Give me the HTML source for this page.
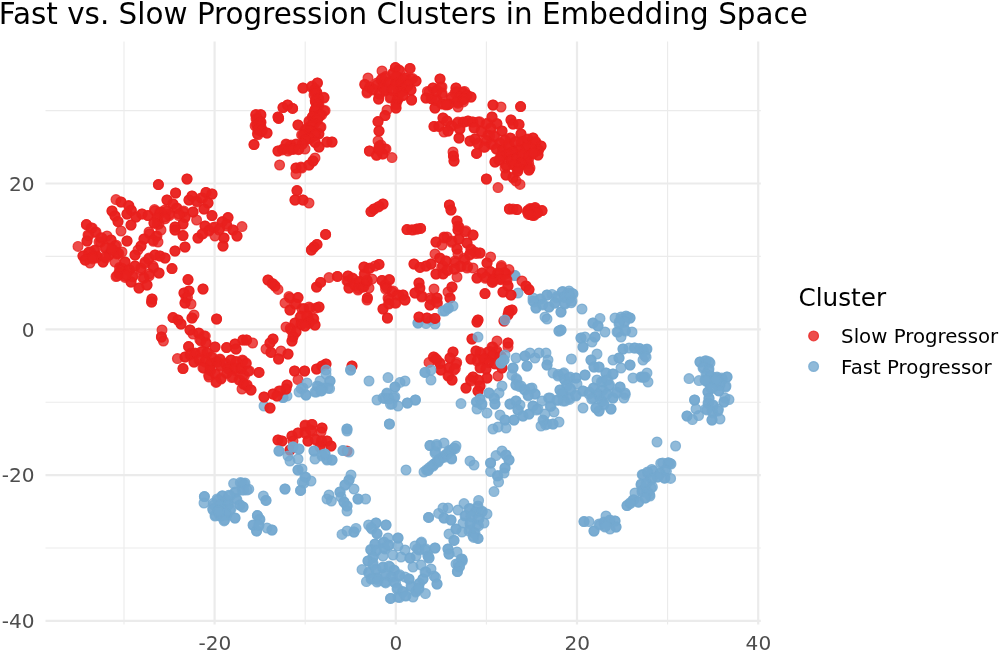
<!DOCTYPE html><html><head><meta charset="utf-8"><title>Fast vs. Slow Progression Clusters in Embedding Space</title>
<style>html,body{margin:0;padding:0;background:#fff}svg{display:block}text{font-family:"DejaVu Sans","Liberation Sans",sans-serif}.ax{font-size:20.1px;fill:#4d4d4d}.r{fill:#e8201e;fill-opacity:0.8;stroke:#e8201e;stroke-opacity:0.8;stroke-width:1.2}.b{fill:#74a9cf;fill-opacity:0.8;stroke:#74a9cf;stroke-opacity:0.8;stroke-width:1.2}</style></head><body>
<svg width="1000" height="652" viewBox="0 0 1000 652">
<rect width="1000" height="652" fill="#fff"/>
<g><line x1="124.00" x2="124.00" y1="41.50" y2="624.50" stroke="#ebebeb" stroke-width="1.1"/><line x1="45.50" x2="760.80" y1="548.00" y2="548.00" stroke="#ebebeb" stroke-width="1.1"/><line x1="305.20" x2="305.20" y1="41.50" y2="624.50" stroke="#ebebeb" stroke-width="1.1"/><line x1="45.50" x2="760.80" y1="402.20" y2="402.20" stroke="#ebebeb" stroke-width="1.1"/><line x1="486.40" x2="486.40" y1="41.50" y2="624.50" stroke="#ebebeb" stroke-width="1.1"/><line x1="45.50" x2="760.80" y1="256.40" y2="256.40" stroke="#ebebeb" stroke-width="1.1"/><line x1="667.60" x2="667.60" y1="41.50" y2="624.50" stroke="#ebebeb" stroke-width="1.1"/><line x1="45.50" x2="760.80" y1="110.60" y2="110.60" stroke="#ebebeb" stroke-width="1.1"/><line x1="214.60" x2="214.60" y1="41.50" y2="624.50" stroke="#ebebeb" stroke-width="2.2"/><line x1="395.80" x2="395.80" y1="41.50" y2="624.50" stroke="#ebebeb" stroke-width="2.2"/><line x1="577.00" x2="577.00" y1="41.50" y2="624.50" stroke="#ebebeb" stroke-width="2.2"/><line x1="758.20" x2="758.20" y1="41.50" y2="624.50" stroke="#ebebeb" stroke-width="2.2"/><line x1="45.50" x2="760.80" y1="620.90" y2="620.90" stroke="#ebebeb" stroke-width="2.2"/><line x1="45.50" x2="760.80" y1="475.10" y2="475.10" stroke="#ebebeb" stroke-width="2.2"/><line x1="45.50" x2="760.80" y1="329.30" y2="329.30" stroke="#ebebeb" stroke-width="2.2"/><line x1="45.50" x2="760.80" y1="183.50" y2="183.50" stroke="#ebebeb" stroke-width="2.2"/></g>
<g><circle class="r" cx="256.0" cy="114.4" r="4.9"/><circle class="r" cx="255.7" cy="115.0" r="4.9"/><circle class="r" cx="261.0" cy="115.0" r="4.9"/><circle class="r" cx="260.6" cy="114.5" r="4.9"/><circle class="r" cx="257.0" cy="119.0" r="4.9"/><circle class="r" cx="256.0" cy="118.8" r="4.9"/><circle class="r" cx="258.2" cy="119.4" r="4.9"/><circle class="r" cx="260.0" cy="122.0" r="4.9"/><circle class="r" cx="261.1" cy="122.3" r="4.9"/><circle class="r" cx="260.6" cy="122.3" r="4.9"/><circle class="r" cx="256.6" cy="125.0" r="4.9"/><circle class="r" cx="255.1" cy="125.8" r="4.9"/><circle class="r" cx="257.2" cy="125.6" r="4.9"/><circle class="r" cx="261.0" cy="127.0" r="4.9"/><circle class="r" cx="259.7" cy="125.6" r="4.9"/><circle class="r" cx="260.0" cy="126.5" r="4.9"/><circle class="r" cx="258.0" cy="130.0" r="4.9"/><circle class="r" cx="258.6" cy="129.9" r="4.9"/><circle class="r" cx="258.6" cy="129.3" r="4.9"/><circle class="r" cx="262.0" cy="130.0" r="4.9"/><circle class="r" cx="262.4" cy="130.5" r="4.9"/><circle class="r" cx="261.4" cy="131.6" r="4.9"/><circle class="r" cx="257.4" cy="133.6" r="4.9"/><circle class="r" cx="258.0" cy="134.8" r="4.9"/><circle class="r" cx="267.0" cy="133.0" r="4.9"/><circle class="r" cx="267.0" cy="133.0" r="4.9"/><circle class="r" cx="254.0" cy="144.6" r="4.9"/><circle class="r" cx="254.0" cy="144.6" r="4.9"/><circle class="r" cx="278.6" cy="118.4" r="4.9"/><circle class="r" cx="278.6" cy="118.4" r="4.9"/><circle class="r" cx="278.0" cy="117.0" r="4.9"/><circle class="r" cx="278.0" cy="117.0" r="4.9"/><circle class="r" cx="283.0" cy="107.6" r="4.9"/><circle class="r" cx="283.0" cy="107.6" r="4.9"/><circle class="r" cx="287.6" cy="105.0" r="4.9"/><circle class="r" cx="287.6" cy="105.0" r="4.9"/><circle class="r" cx="292.6" cy="108.4" r="4.9"/><circle class="r" cx="292.6" cy="108.4" r="4.9"/><circle class="r" cx="303.0" cy="88.0" r="4.9"/><circle class="r" cx="303.0" cy="88.0" r="4.9"/><circle class="r" cx="312.0" cy="86.0" r="4.9"/><circle class="r" cx="311.5" cy="87.3" r="4.9"/><circle class="r" cx="317.4" cy="83.0" r="4.9"/><circle class="r" cx="317.4" cy="83.0" r="4.9"/><circle class="r" cx="315.0" cy="89.0" r="4.9"/><circle class="r" cx="314.5" cy="90.6" r="4.9"/><circle class="r" cx="317.0" cy="93.0" r="4.9"/><circle class="r" cx="316.7" cy="92.2" r="4.9"/><circle class="r" cx="315.9" cy="92.4" r="4.9"/><circle class="r" cx="314.0" cy="95.0" r="4.9"/><circle class="r" cx="315.1" cy="93.9" r="4.9"/><circle class="r" cx="318.0" cy="98.0" r="4.9"/><circle class="r" cx="317.5" cy="99.9" r="4.9"/><circle class="r" cx="318.8" cy="98.8" r="4.9"/><circle class="r" cx="324.0" cy="98.0" r="4.9"/><circle class="r" cx="324.0" cy="97.3" r="4.9"/><circle class="r" cx="316.0" cy="102.0" r="4.9"/><circle class="r" cx="315.4" cy="102.0" r="4.9"/><circle class="r" cx="315.2" cy="100.6" r="4.9"/><circle class="r" cx="319.0" cy="105.0" r="4.9"/><circle class="r" cx="317.4" cy="104.2" r="4.9"/><circle class="r" cx="318.4" cy="106.4" r="4.9"/><circle class="r" cx="317.0" cy="109.0" r="4.9"/><circle class="r" cx="315.9" cy="108.2" r="4.9"/><circle class="r" cx="315.3" cy="109.5" r="4.9"/><circle class="r" cx="324.0" cy="111.0" r="4.9"/><circle class="r" cx="325.1" cy="110.6" r="4.9"/><circle class="r" cx="315.0" cy="112.0" r="4.9"/><circle class="r" cx="314.7" cy="111.5" r="4.9"/><circle class="r" cx="314.6" cy="110.6" r="4.9"/><circle class="r" cx="320.0" cy="115.0" r="4.9"/><circle class="r" cx="321.7" cy="114.9" r="4.9"/><circle class="r" cx="319.8" cy="116.1" r="4.9"/><circle class="r" cx="313.0" cy="117.0" r="4.9"/><circle class="r" cx="312.7" cy="116.5" r="4.9"/><circle class="r" cx="312.3" cy="117.2" r="4.9"/><circle class="r" cx="317.0" cy="120.0" r="4.9"/><circle class="r" cx="317.4" cy="120.4" r="4.9"/><circle class="r" cx="317.1" cy="119.3" r="4.9"/><circle class="r" cx="309.0" cy="121.0" r="4.9"/><circle class="r" cx="309.0" cy="122.1" r="4.9"/><circle class="r" cx="314.0" cy="124.0" r="4.9"/><circle class="r" cx="314.4" cy="123.6" r="4.9"/><circle class="r" cx="312.7" cy="124.4" r="4.9"/><circle class="r" cx="310.0" cy="127.0" r="4.9"/><circle class="r" cx="311.3" cy="125.8" r="4.9"/><circle class="r" cx="310.6" cy="126.3" r="4.9"/><circle class="r" cx="321.0" cy="127.0" r="4.9"/><circle class="r" cx="320.1" cy="127.5" r="4.9"/><circle class="r" cx="305.0" cy="130.0" r="4.9"/><circle class="r" cx="306.4" cy="128.7" r="4.9"/><circle class="r" cx="305.4" cy="130.6" r="4.9"/><circle class="r" cx="311.0" cy="131.0" r="4.9"/><circle class="r" cx="311.1" cy="131.8" r="4.9"/><circle class="r" cx="309.6" cy="131.1" r="4.9"/><circle class="r" cx="298.0" cy="125.0" r="4.9"/><circle class="r" cx="298.0" cy="125.0" r="4.9"/><circle class="r" cx="307.0" cy="134.0" r="4.9"/><circle class="r" cx="308.1" cy="134.0" r="4.9"/><circle class="r" cx="306.1" cy="135.0" r="4.9"/><circle class="r" cx="303.0" cy="135.0" r="4.9"/><circle class="r" cx="304.5" cy="134.6" r="4.9"/><circle class="r" cx="301.6" cy="134.9" r="4.9"/><circle class="r" cx="319.0" cy="134.0" r="4.9"/><circle class="r" cx="318.7" cy="133.5" r="4.9"/><circle class="r" cx="314.0" cy="136.0" r="4.9"/><circle class="r" cx="315.3" cy="135.0" r="4.9"/><circle class="r" cx="315.2" cy="134.8" r="4.9"/><circle class="r" cx="309.0" cy="138.0" r="4.9"/><circle class="r" cx="308.1" cy="138.7" r="4.9"/><circle class="r" cx="310.2" cy="138.9" r="4.9"/><circle class="r" cx="305.0" cy="140.0" r="4.9"/><circle class="r" cx="305.6" cy="140.2" r="4.9"/><circle class="r" cx="315.0" cy="142.0" r="4.9"/><circle class="r" cx="315.2" cy="142.7" r="4.9"/><circle class="r" cx="319.0" cy="147.0" r="4.9"/><circle class="r" cx="319.0" cy="147.0" r="4.9"/><circle class="r" cx="302.0" cy="144.0" r="4.9"/><circle class="r" cx="302.5" cy="144.2" r="4.9"/><circle class="r" cx="296.0" cy="144.0" r="4.9"/><circle class="r" cx="296.4" cy="144.5" r="4.9"/><circle class="r" cx="290.0" cy="146.0" r="4.9"/><circle class="r" cx="289.6" cy="146.4" r="4.9"/><circle class="r" cx="291.0" cy="145.0" r="4.9"/><circle class="r" cx="286.0" cy="144.0" r="4.9"/><circle class="r" cx="286.5" cy="144.7" r="4.9"/><circle class="r" cx="283.0" cy="149.0" r="4.9"/><circle class="r" cx="282.4" cy="149.9" r="4.9"/><circle class="r" cx="278.0" cy="151.0" r="4.9"/><circle class="r" cx="278.0" cy="151.0" r="4.9"/><circle class="r" cx="288.0" cy="151.0" r="4.9"/><circle class="r" cx="289.2" cy="149.4" r="4.9"/><circle class="r" cx="293.0" cy="149.0" r="4.9"/><circle class="r" cx="291.8" cy="149.3" r="4.9"/><circle class="r" cx="293.6" cy="149.3" r="4.9"/><circle class="r" cx="299.0" cy="149.0" r="4.9"/><circle class="r" cx="298.5" cy="149.7" r="4.9"/><circle class="r" cx="305.0" cy="149.0" r="4.9"/><circle class="r" cx="327.0" cy="142.0" r="4.9"/><circle class="r" cx="327.0" cy="142.0" r="4.9"/><circle class="r" cx="332.0" cy="142.0" r="4.9"/><circle class="r" cx="332.0" cy="142.0" r="4.9"/><circle class="r" cx="279.6" cy="165.0" r="4.9"/><circle class="r" cx="296.0" cy="168.0" r="4.9"/><circle class="r" cx="296.0" cy="168.0" r="4.9"/><circle class="r" cx="301.0" cy="167.0" r="4.9"/><circle class="r" cx="301.8" cy="168.0" r="4.9"/><circle class="r" cx="309.0" cy="165.0" r="4.9"/><circle class="r" cx="309.0" cy="165.0" r="4.9"/><circle class="r" cx="313.0" cy="161.0" r="4.9"/><circle class="r" cx="313.0" cy="161.0" r="4.9"/><circle class="r" cx="315.0" cy="158.0" r="4.9"/><circle class="r" cx="368.0" cy="78.0" r="4.9"/><circle class="r" cx="365.0" cy="85.0" r="4.9"/><circle class="r" cx="364.7" cy="84.2" r="4.9"/><circle class="r" cx="370.0" cy="87.0" r="4.9"/><circle class="r" cx="369.5" cy="87.6" r="4.9"/><circle class="r" cx="367.0" cy="93.0" r="4.9"/><circle class="r" cx="367.2" cy="91.7" r="4.9"/><circle class="r" cx="373.0" cy="90.0" r="4.9"/><circle class="r" cx="373.2" cy="89.0" r="4.9"/><circle class="r" cx="377.0" cy="83.0" r="4.9"/><circle class="r" cx="377.3" cy="84.7" r="4.9"/><circle class="r" cx="382.0" cy="71.0" r="4.9"/><circle class="r" cx="381.0" cy="80.0" r="4.9"/><circle class="r" cx="382.0" cy="78.6" r="4.9"/><circle class="r" cx="385.0" cy="78.0" r="4.9"/><circle class="r" cx="385.7" cy="76.5" r="4.9"/><circle class="r" cx="383.0" cy="87.0" r="4.9"/><circle class="r" cx="383.2" cy="88.3" r="4.9"/><circle class="r" cx="382.7" cy="87.4" r="4.9"/><circle class="r" cx="379.0" cy="94.0" r="4.9"/><circle class="r" cx="379.9" cy="94.2" r="4.9"/><circle class="r" cx="378.6" cy="99.0" r="4.9"/><circle class="r" cx="378.6" cy="99.0" r="4.9"/><circle class="r" cx="387.0" cy="90.0" r="4.9"/><circle class="r" cx="386.3" cy="88.2" r="4.9"/><circle class="r" cx="385.2" cy="90.6" r="4.9"/><circle class="r" cx="390.0" cy="82.0" r="4.9"/><circle class="r" cx="391.9" cy="81.9" r="4.9"/><circle class="r" cx="389.5" cy="82.6" r="4.9"/><circle class="r" cx="393.0" cy="73.0" r="4.9"/><circle class="r" cx="393.1" cy="73.8" r="4.9"/><circle class="r" cx="395.4" cy="67.6" r="4.9"/><circle class="r" cx="395.4" cy="67.6" r="4.9"/><circle class="r" cx="400.0" cy="71.0" r="4.9"/><circle class="r" cx="398.7" cy="69.7" r="4.9"/><circle class="r" cx="397.0" cy="78.0" r="4.9"/><circle class="r" cx="397.7" cy="77.0" r="4.9"/><circle class="r" cx="396.0" cy="76.6" r="4.9"/><circle class="r" cx="395.0" cy="85.0" r="4.9"/><circle class="r" cx="396.3" cy="85.8" r="4.9"/><circle class="r" cx="396.4" cy="84.1" r="4.9"/><circle class="r" cx="401.0" cy="82.0" r="4.9"/><circle class="r" cx="401.0" cy="80.8" r="4.9"/><circle class="r" cx="401.7" cy="83.5" r="4.9"/><circle class="r" cx="405.0" cy="78.0" r="4.9"/><circle class="r" cx="404.2" cy="79.5" r="4.9"/><circle class="r" cx="406.1" cy="77.8" r="4.9"/><circle class="r" cx="410.0" cy="68.4" r="4.9"/><circle class="r" cx="410.0" cy="68.4" r="4.9"/><circle class="r" cx="411.0" cy="79.0" r="4.9"/><circle class="r" cx="412.5" cy="78.5" r="4.9"/><circle class="r" cx="416.0" cy="81.0" r="4.9"/><circle class="r" cx="416.0" cy="81.0" r="4.9"/><circle class="r" cx="407.0" cy="86.0" r="4.9"/><circle class="r" cx="407.5" cy="86.5" r="4.9"/><circle class="r" cx="408.4" cy="85.0" r="4.9"/><circle class="r" cx="403.0" cy="89.0" r="4.9"/><circle class="r" cx="404.1" cy="90.4" r="4.9"/><circle class="r" cx="404.5" cy="88.8" r="4.9"/><circle class="r" cx="411.0" cy="90.0" r="4.9"/><circle class="r" cx="411.0" cy="90.0" r="4.9"/><circle class="r" cx="399.0" cy="92.0" r="4.9"/><circle class="r" cx="398.3" cy="91.8" r="4.9"/><circle class="r" cx="400.9" cy="92.2" r="4.9"/><circle class="r" cx="393.0" cy="91.0" r="4.9"/><circle class="r" cx="392.2" cy="90.0" r="4.9"/><circle class="r" cx="390.0" cy="98.0" r="4.9"/><circle class="r" cx="391.1" cy="97.5" r="4.9"/><circle class="r" cx="397.0" cy="100.0" r="4.9"/><circle class="r" cx="398.2" cy="98.7" r="4.9"/><circle class="r" cx="397.2" cy="100.9" r="4.9"/><circle class="r" cx="403.0" cy="95.0" r="4.9"/><circle class="r" cx="402.8" cy="95.8" r="4.9"/><circle class="r" cx="411.6" cy="100.0" r="4.9"/><circle class="r" cx="411.6" cy="100.0" r="4.9"/><circle class="r" cx="396.0" cy="104.0" r="4.9"/><circle class="r" cx="395.9" cy="105.1" r="4.9"/><circle class="r" cx="396.0" cy="108.0" r="4.9"/><circle class="r" cx="396.0" cy="108.0" r="4.9"/><circle class="r" cx="387.0" cy="110.0" r="4.9"/><circle class="r" cx="385.0" cy="115.6" r="4.9"/><circle class="r" cx="385.0" cy="115.6" r="4.9"/><circle class="r" cx="378.0" cy="121.6" r="4.9"/><circle class="r" cx="378.0" cy="121.6" r="4.9"/><circle class="r" cx="379.0" cy="131.0" r="4.9"/><circle class="r" cx="379.0" cy="131.0" r="4.9"/><circle class="r" cx="378.0" cy="141.0" r="4.9"/><circle class="r" cx="381.0" cy="145.0" r="4.9"/><circle class="r" cx="379.4" cy="145.9" r="4.9"/><circle class="r" cx="386.0" cy="149.0" r="4.9"/><circle class="r" cx="384.7" cy="149.0" r="4.9"/><circle class="r" cx="383.0" cy="154.0" r="4.9"/><circle class="r" cx="382.5" cy="153.9" r="4.9"/><circle class="r" cx="377.0" cy="155.0" r="4.9"/><circle class="r" cx="376.3" cy="155.3" r="4.9"/><circle class="r" cx="369.4" cy="151.0" r="4.9"/><circle class="r" cx="369.4" cy="151.0" r="4.9"/><circle class="r" cx="392.0" cy="157.6" r="4.9"/><circle class="r" cx="379.0" cy="149.0" r="4.9"/><circle class="r" cx="379.6" cy="150.1" r="4.9"/><circle class="r" cx="378.8" cy="147.7" r="4.9"/><circle class="r" cx="440.0" cy="79.0" r="4.9"/><circle class="r" cx="440.0" cy="79.0" r="4.9"/><circle class="r" cx="433.0" cy="88.0" r="4.9"/><circle class="r" cx="433.0" cy="88.0" r="4.9"/><circle class="r" cx="429.0" cy="92.0" r="4.9"/><circle class="r" cx="427.4" cy="91.4" r="4.9"/><circle class="r" cx="426.0" cy="98.0" r="4.9"/><circle class="r" cx="426.0" cy="98.0" r="4.9"/><circle class="r" cx="432.0" cy="99.0" r="4.9"/><circle class="r" cx="431.2" cy="98.7" r="4.9"/><circle class="r" cx="437.0" cy="90.0" r="4.9"/><circle class="r" cx="436.7" cy="91.6" r="4.9"/><circle class="r" cx="442.0" cy="87.0" r="4.9"/><circle class="r" cx="440.7" cy="86.9" r="4.9"/><circle class="r" cx="442.0" cy="95.0" r="4.9"/><circle class="r" cx="442.1" cy="93.1" r="4.9"/><circle class="r" cx="437.0" cy="100.0" r="4.9"/><circle class="r" cx="435.7" cy="100.5" r="4.9"/><circle class="r" cx="435.0" cy="108.0" r="4.9"/><circle class="r" cx="435.0" cy="108.0" r="4.9"/><circle class="r" cx="443.0" cy="104.0" r="4.9"/><circle class="r" cx="441.5" cy="103.9" r="4.9"/><circle class="r" cx="434.0" cy="126.4" r="4.9"/><circle class="r" cx="434.0" cy="126.4" r="4.9"/><circle class="r" cx="439.0" cy="126.4" r="4.9"/><circle class="r" cx="439.0" cy="126.4" r="4.9"/><circle class="r" cx="443.0" cy="118.0" r="4.9"/><circle class="r" cx="443.0" cy="118.0" r="4.9"/><circle class="r" cx="444.0" cy="132.0" r="4.9"/><circle class="r" cx="456.0" cy="88.0" r="4.9"/><circle class="r" cx="456.0" cy="88.0" r="4.9"/><circle class="r" cx="455.0" cy="93.0" r="4.9"/><circle class="r" cx="456.4" cy="91.7" r="4.9"/><circle class="r" cx="463.0" cy="92.0" r="4.9"/><circle class="r" cx="462.9" cy="93.3" r="4.9"/><circle class="r" cx="464.6" cy="91.4" r="4.9"/><circle class="r" cx="460.0" cy="97.0" r="4.9"/><circle class="r" cx="460.4" cy="97.5" r="4.9"/><circle class="r" cx="459.4" cy="97.2" r="4.9"/><circle class="r" cx="467.0" cy="95.0" r="4.9"/><circle class="r" cx="467.0" cy="95.6" r="4.9"/><circle class="r" cx="471.0" cy="97.0" r="4.9"/><circle class="r" cx="471.0" cy="97.0" r="4.9"/><circle class="r" cx="451.0" cy="99.0" r="4.9"/><circle class="r" cx="451.4" cy="97.2" r="4.9"/><circle class="r" cx="457.0" cy="102.0" r="4.9"/><circle class="r" cx="457.9" cy="103.3" r="4.9"/><circle class="r" cx="456.6" cy="101.4" r="4.9"/><circle class="r" cx="463.0" cy="100.0" r="4.9"/><circle class="r" cx="464.4" cy="98.7" r="4.9"/><circle class="r" cx="463.4" cy="101.9" r="4.9"/><circle class="r" cx="449.0" cy="104.0" r="4.9"/><circle class="r" cx="448.0" cy="104.7" r="4.9"/><circle class="r" cx="458.0" cy="107.0" r="4.9"/><circle class="r" cx="446.0" cy="105.0" r="4.9"/><circle class="r" cx="446.4" cy="104.4" r="4.9"/><circle class="r" cx="447.0" cy="121.0" r="4.9"/><circle class="r" cx="447.0" cy="121.0" r="4.9"/><circle class="r" cx="452.0" cy="126.0" r="4.9"/><circle class="r" cx="451.0" cy="125.9" r="4.9"/><circle class="r" cx="448.0" cy="131.0" r="4.9"/><circle class="r" cx="448.0" cy="131.0" r="4.9"/><circle class="r" cx="458.0" cy="122.0" r="4.9"/><circle class="r" cx="457.3" cy="123.4" r="4.9"/><circle class="r" cx="463.0" cy="122.0" r="4.9"/><circle class="r" cx="464.3" cy="122.2" r="4.9"/><circle class="r" cx="460.0" cy="129.0" r="4.9"/><circle class="r" cx="459.5" cy="129.2" r="4.9"/><circle class="r" cx="459.0" cy="138.0" r="4.9"/><circle class="r" cx="459.0" cy="138.0" r="4.9"/><circle class="r" cx="468.0" cy="121.0" r="4.9"/><circle class="r" cx="468.0" cy="121.0" r="4.9"/><circle class="r" cx="473.0" cy="122.0" r="4.9"/><circle class="r" cx="472.4" cy="122.0" r="4.9"/><circle class="r" cx="478.0" cy="122.0" r="4.9"/><circle class="r" cx="479.7" cy="121.8" r="4.9"/><circle class="r" cx="474.0" cy="128.0" r="4.9"/><circle class="r" cx="474.6" cy="127.9" r="4.9"/><circle class="r" cx="470.0" cy="141.0" r="4.9"/><circle class="r" cx="470.0" cy="141.0" r="4.9"/><circle class="r" cx="475.0" cy="139.0" r="4.9"/><circle class="r" cx="475.0" cy="139.0" r="4.9"/><circle class="r" cx="478.0" cy="144.0" r="4.9"/><circle class="r" cx="478.2" cy="143.1" r="4.9"/><circle class="r" cx="481.0" cy="131.0" r="4.9"/><circle class="r" cx="481.8" cy="131.8" r="4.9"/><circle class="r" cx="486.0" cy="124.0" r="4.9"/><circle class="r" cx="487.5" cy="123.1" r="4.9"/><circle class="r" cx="492.0" cy="117.0" r="4.9"/><circle class="r" cx="492.0" cy="117.0" r="4.9"/><circle class="r" cx="493.0" cy="105.0" r="4.9"/><circle class="r" cx="493.0" cy="105.0" r="4.9"/><circle class="r" cx="501.0" cy="107.0" r="4.9"/><circle class="r" cx="520.6" cy="106.6" r="4.9"/><circle class="r" cx="520.6" cy="106.6" r="4.9"/><circle class="r" cx="497.0" cy="124.0" r="4.9"/><circle class="r" cx="496.8" cy="123.4" r="4.9"/><circle class="r" cx="502.0" cy="131.0" r="4.9"/><circle class="r" cx="502.0" cy="131.0" r="4.9"/><circle class="r" cx="491.0" cy="129.0" r="4.9"/><circle class="r" cx="490.6" cy="127.9" r="4.9"/><circle class="r" cx="488.0" cy="135.0" r="4.9"/><circle class="r" cx="489.7" cy="135.8" r="4.9"/><circle class="r" cx="495.0" cy="137.0" r="4.9"/><circle class="r" cx="493.9" cy="135.7" r="4.9"/><circle class="r" cx="485.0" cy="140.0" r="4.9"/><circle class="r" cx="486.5" cy="140.9" r="4.9"/><circle class="r" cx="491.0" cy="144.0" r="4.9"/><circle class="r" cx="492.6" cy="144.7" r="4.9"/><circle class="r" cx="485.0" cy="147.0" r="4.9"/><circle class="r" cx="484.0" cy="147.3" r="4.9"/><circle class="r" cx="476.6" cy="153.4" r="4.9"/><circle class="r" cx="476.6" cy="153.4" r="4.9"/><circle class="r" cx="453.0" cy="152.0" r="4.9"/><circle class="r" cx="453.4" cy="156.0" r="4.9"/><circle class="r" cx="453.4" cy="156.0" r="4.9"/><circle class="r" cx="454.0" cy="161.0" r="4.9"/><circle class="r" cx="454.0" cy="161.0" r="4.9"/><circle class="r" cx="511.0" cy="120.0" r="4.9"/><circle class="r" cx="511.0" cy="120.0" r="4.9"/><circle class="r" cx="513.0" cy="124.0" r="4.9"/><circle class="r" cx="513.0" cy="124.0" r="4.9"/><circle class="r" cx="519.0" cy="124.4" r="4.9"/><circle class="r" cx="519.0" cy="124.4" r="4.9"/><circle class="r" cx="521.0" cy="134.0" r="4.9"/><circle class="r" cx="521.0" cy="134.0" r="4.9"/><circle class="r" cx="510.0" cy="138.0" r="4.9"/><circle class="r" cx="510.8" cy="138.2" r="4.9"/><circle class="r" cx="505.0" cy="140.0" r="4.9"/><circle class="r" cx="504.6" cy="140.9" r="4.9"/><circle class="r" cx="500.0" cy="144.0" r="4.9"/><circle class="r" cx="500.1" cy="143.1" r="4.9"/><circle class="r" cx="497.0" cy="149.0" r="4.9"/><circle class="r" cx="496.2" cy="149.0" r="4.9"/><circle class="r" cx="503.0" cy="150.0" r="4.9"/><circle class="r" cx="502.7" cy="150.4" r="4.9"/><circle class="r" cx="503.0" cy="150.5" r="4.9"/><circle class="r" cx="509.0" cy="146.0" r="4.9"/><circle class="r" cx="508.9" cy="144.7" r="4.9"/><circle class="r" cx="509.5" cy="147.1" r="4.9"/><circle class="r" cx="515.0" cy="142.0" r="4.9"/><circle class="r" cx="515.6" cy="141.7" r="4.9"/><circle class="r" cx="523.0" cy="142.0" r="4.9"/><circle class="r" cx="523.5" cy="141.0" r="4.9"/><circle class="r" cx="521.2" cy="142.1" r="4.9"/><circle class="r" cx="528.0" cy="139.0" r="4.9"/><circle class="r" cx="527.0" cy="139.8" r="4.9"/><circle class="r" cx="533.0" cy="138.0" r="4.9"/><circle class="r" cx="533.0" cy="138.0" r="4.9"/><circle class="r" cx="535.0" cy="143.0" r="4.9"/><circle class="r" cx="536.0" cy="142.9" r="4.9"/><circle class="r" cx="535.8" cy="141.6" r="4.9"/><circle class="r" cx="541.0" cy="146.0" r="4.9"/><circle class="r" cx="541.0" cy="146.0" r="4.9"/><circle class="r" cx="538.0" cy="150.0" r="4.9"/><circle class="r" cx="537.2" cy="150.6" r="4.9"/><circle class="r" cx="538.7" cy="150.2" r="4.9"/><circle class="r" cx="538.0" cy="155.0" r="4.9"/><circle class="r" cx="538.0" cy="155.0" r="4.9"/><circle class="r" cx="531.0" cy="149.0" r="4.9"/><circle class="r" cx="530.9" cy="148.1" r="4.9"/><circle class="r" cx="525.0" cy="149.0" r="4.9"/><circle class="r" cx="525.3" cy="149.5" r="4.9"/><circle class="r" cx="526.0" cy="147.5" r="4.9"/><circle class="r" cx="519.0" cy="150.0" r="4.9"/><circle class="r" cx="518.6" cy="149.2" r="4.9"/><circle class="r" cx="519.0" cy="150.9" r="4.9"/><circle class="r" cx="513.0" cy="152.0" r="4.9"/><circle class="r" cx="512.3" cy="152.2" r="4.9"/><circle class="r" cx="512.2" cy="152.3" r="4.9"/><circle class="r" cx="507.0" cy="155.0" r="4.9"/><circle class="r" cx="508.9" cy="154.5" r="4.9"/><circle class="r" cx="506.2" cy="154.7" r="4.9"/><circle class="r" cx="501.0" cy="156.0" r="4.9"/><circle class="r" cx="501.9" cy="155.8" r="4.9"/><circle class="r" cx="500.7" cy="156.4" r="4.9"/><circle class="r" cx="495.0" cy="162.0" r="4.9"/><circle class="r" cx="495.0" cy="162.0" r="4.9"/><circle class="r" cx="500.0" cy="160.0" r="4.9"/><circle class="r" cx="498.8" cy="160.2" r="4.9"/><circle class="r" cx="506.0" cy="165.0" r="4.9"/><circle class="r" cx="506.4" cy="166.2" r="4.9"/><circle class="r" cx="511.0" cy="160.0" r="4.9"/><circle class="r" cx="511.9" cy="160.0" r="4.9"/><circle class="r" cx="511.9" cy="160.6" r="4.9"/><circle class="r" cx="517.0" cy="158.0" r="4.9"/><circle class="r" cx="517.5" cy="158.1" r="4.9"/><circle class="r" cx="516.7" cy="158.8" r="4.9"/><circle class="r" cx="523.0" cy="156.0" r="4.9"/><circle class="r" cx="521.9" cy="155.3" r="4.9"/><circle class="r" cx="523.0" cy="154.5" r="4.9"/><circle class="r" cx="529.0" cy="158.0" r="4.9"/><circle class="r" cx="528.6" cy="156.2" r="4.9"/><circle class="r" cx="533.0" cy="153.0" r="4.9"/><circle class="r" cx="532.2" cy="153.6" r="4.9"/><circle class="r" cx="533.7" cy="152.9" r="4.9"/><circle class="r" cx="527.0" cy="163.0" r="4.9"/><circle class="r" cx="526.8" cy="161.6" r="4.9"/><circle class="r" cx="528.7" cy="163.5" r="4.9"/><circle class="r" cx="521.0" cy="165.0" r="4.9"/><circle class="r" cx="522.1" cy="164.1" r="4.9"/><circle class="r" cx="520.8" cy="163.3" r="4.9"/><circle class="r" cx="515.0" cy="165.0" r="4.9"/><circle class="r" cx="515.8" cy="166.0" r="4.9"/><circle class="r" cx="513.2" cy="165.0" r="4.9"/><circle class="r" cx="530.0" cy="168.0" r="4.9"/><circle class="r" cx="518.0" cy="169.0" r="4.9"/><circle class="r" cx="518.6" cy="167.8" r="4.9"/><circle class="r" cx="505.0" cy="168.0" r="4.9"/><circle class="r" cx="187.0" cy="179.0" r="4.9"/><circle class="r" cx="187.0" cy="179.0" r="4.9"/><circle class="r" cx="158.4" cy="184.6" r="4.9"/><circle class="r" cx="158.4" cy="184.6" r="4.9"/><circle class="r" cx="175.6" cy="193.0" r="4.9"/><circle class="r" cx="175.6" cy="193.0" r="4.9"/><circle class="r" cx="167.0" cy="200.0" r="4.9"/><circle class="r" cx="167.0" cy="200.0" r="4.9"/><circle class="r" cx="173.0" cy="204.0" r="4.9"/><circle class="r" cx="173.0" cy="204.0" r="4.9"/><circle class="r" cx="177.0" cy="208.0" r="4.9"/><circle class="r" cx="176.6" cy="208.5" r="4.9"/><circle class="r" cx="183.0" cy="212.0" r="4.9"/><circle class="r" cx="183.7" cy="210.9" r="4.9"/><circle class="r" cx="189.0" cy="200.0" r="4.9"/><circle class="r" cx="189.0" cy="200.0" r="4.9"/><circle class="r" cx="192.0" cy="196.0" r="4.9"/><circle class="r" cx="192.0" cy="196.0" r="4.9"/><circle class="r" cx="197.0" cy="202.0" r="4.9"/><circle class="r" cx="196.5" cy="200.9" r="4.9"/><circle class="r" cx="201.0" cy="198.0" r="4.9"/><circle class="r" cx="202.7" cy="198.0" r="4.9"/><circle class="r" cx="206.0" cy="192.4" r="4.9"/><circle class="r" cx="206.0" cy="192.4" r="4.9"/><circle class="r" cx="212.0" cy="194.0" r="4.9"/><circle class="r" cx="212.0" cy="194.0" r="4.9"/><circle class="r" cx="208.0" cy="203.0" r="4.9"/><circle class="r" cx="208.0" cy="203.0" r="4.9"/><circle class="r" cx="204.0" cy="209.0" r="4.9"/><circle class="r" cx="204.0" cy="209.0" r="4.9"/><circle class="r" cx="212.0" cy="215.6" r="4.9"/><circle class="r" cx="212.0" cy="215.6" r="4.9"/><circle class="r" cx="193.0" cy="212.0" r="4.9"/><circle class="r" cx="193.0" cy="212.0" r="4.9"/><circle class="r" cx="185.0" cy="217.0" r="4.9"/><circle class="r" cx="185.0" cy="217.6" r="4.9"/><circle class="r" cx="179.0" cy="214.0" r="4.9"/><circle class="r" cx="178.8" cy="215.6" r="4.9"/><circle class="r" cx="169.0" cy="214.0" r="4.9"/><circle class="r" cx="169.4" cy="215.5" r="4.9"/><circle class="r" cx="196.6" cy="220.0" r="4.9"/><circle class="r" cx="183.0" cy="224.0" r="4.9"/><circle class="r" cx="183.0" cy="224.0" r="4.9"/><circle class="r" cx="175.0" cy="227.0" r="4.9"/><circle class="r" cx="175.0" cy="227.0" r="4.9"/><circle class="r" cx="183.0" cy="235.6" r="4.9"/><circle class="r" cx="183.0" cy="235.6" r="4.9"/><circle class="r" cx="175.0" cy="230.0" r="4.9"/><circle class="r" cx="175.0" cy="230.0" r="4.9"/><circle class="r" cx="116.0" cy="199.6" r="4.9"/><circle class="r" cx="121.0" cy="202.0" r="4.9"/><circle class="r" cx="121.0" cy="202.0" r="4.9"/><circle class="r" cx="129.0" cy="206.0" r="4.9"/><circle class="r" cx="128.6" cy="205.5" r="4.9"/><circle class="r" cx="131.0" cy="210.0" r="4.9"/><circle class="r" cx="131.5" cy="210.7" r="4.9"/><circle class="r" cx="112.0" cy="211.0" r="4.9"/><circle class="r" cx="112.0" cy="211.0" r="4.9"/><circle class="r" cx="115.0" cy="216.0" r="4.9"/><circle class="r" cx="115.0" cy="216.0" r="4.9"/><circle class="r" cx="118.0" cy="221.6" r="4.9"/><circle class="r" cx="118.0" cy="221.6" r="4.9"/><circle class="r" cx="127.0" cy="214.0" r="4.9"/><circle class="r" cx="127.0" cy="214.0" r="4.9"/><circle class="r" cx="136.0" cy="217.0" r="4.9"/><circle class="r" cx="136.0" cy="217.0" r="4.9"/><circle class="r" cx="142.0" cy="214.0" r="4.9"/><circle class="r" cx="142.0" cy="214.0" r="4.9"/><circle class="r" cx="148.0" cy="215.6" r="4.9"/><circle class="r" cx="148.0" cy="215.6" r="4.9"/><circle class="r" cx="155.0" cy="211.0" r="4.9"/><circle class="r" cx="154.5" cy="209.6" r="4.9"/><circle class="r" cx="161.0" cy="212.0" r="4.9"/><circle class="r" cx="160.7" cy="213.2" r="4.9"/><circle class="r" cx="159.8" cy="212.3" r="4.9"/><circle class="r" cx="165.0" cy="210.0" r="4.9"/><circle class="r" cx="166.4" cy="211.2" r="4.9"/><circle class="r" cx="157.0" cy="218.0" r="4.9"/><circle class="r" cx="157.6" cy="219.9" r="4.9"/><circle class="r" cx="157.5" cy="217.8" r="4.9"/><circle class="r" cx="159.0" cy="224.0" r="4.9"/><circle class="r" cx="157.3" cy="224.4" r="4.9"/><circle class="r" cx="161.0" cy="230.0" r="4.9"/><circle class="r" cx="157.0" cy="236.0" r="4.9"/><circle class="r" cx="156.1" cy="236.3" r="4.9"/><circle class="r" cx="149.0" cy="232.0" r="4.9"/><circle class="r" cx="149.5" cy="233.9" r="4.9"/><circle class="r" cx="153.0" cy="240.0" r="4.9"/><circle class="r" cx="153.3" cy="241.3" r="4.9"/><circle class="r" cx="144.0" cy="239.0" r="4.9"/><circle class="r" cx="144.0" cy="239.0" r="4.9"/><circle class="r" cx="141.0" cy="246.0" r="4.9"/><circle class="r" cx="141.0" cy="246.0" r="4.9"/><circle class="r" cx="138.0" cy="250.0" r="4.9"/><circle class="r" cx="135.0" cy="255.0" r="4.9"/><circle class="r" cx="135.0" cy="255.0" r="4.9"/><circle class="r" cx="158.0" cy="242.0" r="4.9"/><circle class="r" cx="131.0" cy="225.0" r="4.9"/><circle class="r" cx="131.0" cy="225.0" r="4.9"/><circle class="r" cx="121.0" cy="231.0" r="4.9"/><circle class="r" cx="127.0" cy="241.0" r="4.9"/><circle class="r" cx="127.0" cy="241.0" r="4.9"/><circle class="r" cx="165.0" cy="217.0" r="4.9"/><circle class="r" cx="165.2" cy="218.8" r="4.9"/><circle class="r" cx="154.0" cy="223.0" r="4.9"/><circle class="r" cx="154.0" cy="223.0" r="4.9"/><circle class="r" cx="86.4" cy="224.6" r="4.9"/><circle class="r" cx="86.4" cy="224.6" r="4.9"/><circle class="r" cx="91.0" cy="228.0" r="4.9"/><circle class="r" cx="92.2" cy="228.0" r="4.9"/><circle class="r" cx="96.0" cy="232.0" r="4.9"/><circle class="r" cx="95.1" cy="232.3" r="4.9"/><circle class="r" cx="88.0" cy="235.0" r="4.9"/><circle class="r" cx="88.6" cy="235.8" r="4.9"/><circle class="r" cx="87.0" cy="241.0" r="4.9"/><circle class="r" cx="87.0" cy="241.0" r="4.9"/><circle class="r" cx="78.0" cy="246.4" r="4.9"/><circle class="r" cx="99.0" cy="242.0" r="4.9"/><circle class="r" cx="100.6" cy="242.0" r="4.9"/><circle class="r" cx="107.0" cy="236.0" r="4.9"/><circle class="r" cx="111.0" cy="240.0" r="4.9"/><circle class="r" cx="111.0" cy="240.0" r="4.9"/><circle class="r" cx="115.0" cy="246.0" r="4.9"/><circle class="r" cx="116.4" cy="245.3" r="4.9"/><circle class="r" cx="105.0" cy="248.0" r="4.9"/><circle class="r" cx="105.8" cy="247.5" r="4.9"/><circle class="r" cx="95.0" cy="250.0" r="4.9"/><circle class="r" cx="94.2" cy="250.8" r="4.9"/><circle class="r" cx="89.0" cy="252.0" r="4.9"/><circle class="r" cx="90.4" cy="252.0" r="4.9"/><circle class="r" cx="88.3" cy="252.9" r="4.9"/><circle class="r" cx="83.0" cy="256.0" r="4.9"/><circle class="r" cx="83.0" cy="256.0" r="4.9"/><circle class="r" cx="85.0" cy="260.0" r="4.9"/><circle class="r" cx="85.6" cy="260.2" r="4.9"/><circle class="r" cx="90.0" cy="263.0" r="4.9"/><circle class="r" cx="97.0" cy="256.0" r="4.9"/><circle class="r" cx="96.6" cy="257.9" r="4.9"/><circle class="r" cx="97.0" cy="256.9" r="4.9"/><circle class="r" cx="103.0" cy="262.0" r="4.9"/><circle class="r" cx="103.0" cy="262.0" r="4.9"/><circle class="r" cx="109.0" cy="254.0" r="4.9"/><circle class="r" cx="109.4" cy="255.0" r="4.9"/><circle class="r" cx="117.0" cy="254.0" r="4.9"/><circle class="r" cx="118.8" cy="253.5" r="4.9"/><circle class="r" cx="117.5" cy="252.7" r="4.9"/><circle class="r" cx="122.0" cy="252.0" r="4.9"/><circle class="r" cx="115.0" cy="262.0" r="4.9"/><circle class="r" cx="121.0" cy="268.0" r="4.9"/><circle class="r" cx="119.5" cy="267.5" r="4.9"/><circle class="r" cx="122.5" cy="268.5" r="4.9"/><circle class="r" cx="125.0" cy="262.0" r="4.9"/><circle class="r" cx="125.0" cy="262.0" r="4.9"/><circle class="r" cx="119.0" cy="274.0" r="4.9"/><circle class="r" cx="119.0" cy="272.5" r="4.9"/><circle class="r" cx="129.0" cy="270.0" r="4.9"/><circle class="r" cx="128.9" cy="270.6" r="4.9"/><circle class="r" cx="129.6" cy="269.7" r="4.9"/><circle class="r" cx="135.0" cy="266.0" r="4.9"/><circle class="r" cx="135.0" cy="266.0" r="4.9"/><circle class="r" cx="133.0" cy="276.0" r="4.9"/><circle class="r" cx="132.5" cy="276.8" r="4.9"/><circle class="r" cx="141.0" cy="270.0" r="4.9"/><circle class="r" cx="140.9" cy="268.0" r="4.9"/><circle class="r" cx="145.0" cy="262.0" r="4.9"/><circle class="r" cx="144.9" cy="263.5" r="4.9"/><circle class="r" cx="149.0" cy="258.0" r="4.9"/><circle class="r" cx="148.6" cy="259.3" r="4.9"/><circle class="r" cx="155.0" cy="255.0" r="4.9"/><circle class="r" cx="155.0" cy="255.0" r="4.9"/><circle class="r" cx="160.0" cy="256.0" r="4.9"/><circle class="r" cx="160.0" cy="256.0" r="4.9"/><circle class="r" cx="165.0" cy="258.0" r="4.9"/><circle class="r" cx="165.0" cy="258.0" r="4.9"/><circle class="r" cx="153.0" cy="266.0" r="4.9"/><circle class="r" cx="153.5" cy="267.8" r="4.9"/><circle class="r" cx="159.0" cy="273.0" r="4.9"/><circle class="r" cx="159.0" cy="273.0" r="4.9"/><circle class="r" cx="149.0" cy="274.0" r="4.9"/><circle class="r" cx="149.3" cy="275.8" r="4.9"/><circle class="r" cx="143.0" cy="278.0" r="4.9"/><circle class="r" cx="144.2" cy="278.0" r="4.9"/><circle class="r" cx="172.0" cy="268.6" r="4.9"/><circle class="r" cx="172.0" cy="268.6" r="4.9"/><circle class="r" cx="175.0" cy="251.0" r="4.9"/><circle class="r" cx="175.0" cy="251.0" r="4.9"/><circle class="r" cx="185.0" cy="247.0" r="4.9"/><circle class="r" cx="185.0" cy="247.0" r="4.9"/><circle class="r" cx="139.0" cy="288.0" r="4.9"/><circle class="r" cx="139.0" cy="288.0" r="4.9"/><circle class="r" cx="147.0" cy="285.0" r="4.9"/><circle class="r" cx="147.0" cy="285.0" r="4.9"/><circle class="r" cx="131.0" cy="282.0" r="4.9"/><circle class="r" cx="131.0" cy="282.0" r="4.9"/><circle class="r" cx="125.0" cy="276.0" r="4.9"/><circle class="r" cx="124.9" cy="277.4" r="4.9"/><circle class="r" cx="126.2" cy="274.9" r="4.9"/><circle class="r" cx="117.0" cy="276.0" r="4.9"/><circle class="r" cx="116.0" cy="276.6" r="4.9"/><circle class="r" cx="102.0" cy="238.0" r="4.9"/><circle class="r" cx="100.9" cy="237.8" r="4.9"/><circle class="r" cx="93.0" cy="257.0" r="4.9"/><circle class="r" cx="92.7" cy="257.5" r="4.9"/><circle class="r" cx="92.7" cy="258.9" r="4.9"/><circle class="r" cx="105.0" cy="257.0" r="4.9"/><circle class="r" cx="105.9" cy="257.9" r="4.9"/><circle class="r" cx="113.0" cy="250.0" r="4.9"/><circle class="r" cx="111.8" cy="248.7" r="4.9"/><circle class="r" cx="198.0" cy="238.0" r="4.9"/><circle class="r" cx="198.0" cy="238.0" r="4.9"/><circle class="r" cx="205.0" cy="226.0" r="4.9"/><circle class="r" cx="205.0" cy="226.0" r="4.9"/><circle class="r" cx="209.0" cy="230.0" r="4.9"/><circle class="r" cx="209.0" cy="231.1" r="4.9"/><circle class="r" cx="215.0" cy="227.0" r="4.9"/><circle class="r" cx="213.2" cy="227.6" r="4.9"/><circle class="r" cx="215.0" cy="236.0" r="4.9"/><circle class="r" cx="222.0" cy="222.0" r="4.9"/><circle class="r" cx="222.4" cy="221.6" r="4.9"/><circle class="r" cx="228.0" cy="217.6" r="4.9"/><circle class="r" cx="228.0" cy="217.6" r="4.9"/><circle class="r" cx="227.0" cy="226.0" r="4.9"/><circle class="r" cx="226.5" cy="224.2" r="4.9"/><circle class="r" cx="233.0" cy="230.0" r="4.9"/><circle class="r" cx="233.0" cy="230.0" r="4.9"/><circle class="r" cx="237.0" cy="236.0" r="4.9"/><circle class="r" cx="237.0" cy="236.0" r="4.9"/><circle class="r" cx="224.0" cy="238.0" r="4.9"/><circle class="r" cx="224.0" cy="238.0" r="4.9"/><circle class="r" cx="223.0" cy="246.0" r="4.9"/><circle class="r" cx="223.0" cy="246.0" r="4.9"/><circle class="r" cx="242.0" cy="226.6" r="4.9"/><circle class="r" cx="219.0" cy="230.0" r="4.9"/><circle class="r" cx="219.8" cy="228.4" r="4.9"/><circle class="r" cx="202.0" cy="234.0" r="4.9"/><circle class="r" cx="202.9" cy="233.8" r="4.9"/><circle class="r" cx="188.0" cy="279.6" r="4.9"/><circle class="r" cx="188.0" cy="279.6" r="4.9"/><circle class="r" cx="203.0" cy="289.0" r="4.9"/><circle class="r" cx="203.0" cy="289.0" r="4.9"/><circle class="r" cx="189.0" cy="291.0" r="4.9"/><circle class="r" cx="189.0" cy="291.0" r="4.9"/><circle class="r" cx="184.0" cy="293.0" r="4.9"/><circle class="r" cx="184.0" cy="293.0" r="4.9"/><circle class="r" cx="186.0" cy="298.0" r="4.9"/><circle class="r" cx="187.5" cy="297.4" r="4.9"/><circle class="r" cx="152.0" cy="299.0" r="4.9"/><circle class="r" cx="152.0" cy="299.0" r="4.9"/><circle class="r" cx="296.0" cy="174.0" r="4.9"/><circle class="r" cx="297.0" cy="190.6" r="4.9"/><circle class="r" cx="297.0" cy="190.6" r="4.9"/><circle class="r" cx="295.0" cy="200.0" r="4.9"/><circle class="r" cx="295.0" cy="200.0" r="4.9"/><circle class="r" cx="303.0" cy="200.0" r="4.9"/><circle class="r" cx="303.0" cy="200.0" r="4.9"/><circle class="r" cx="309.0" cy="203.0" r="4.9"/><circle class="r" cx="383.0" cy="204.0" r="4.9"/><circle class="r" cx="383.0" cy="204.0" r="4.9"/><circle class="r" cx="378.0" cy="207.0" r="4.9"/><circle class="r" cx="379.3" cy="206.3" r="4.9"/><circle class="r" cx="374.0" cy="209.0" r="4.9"/><circle class="r" cx="374.0" cy="209.0" r="4.9"/><circle class="r" cx="371.0" cy="211.6" r="4.9"/><circle class="r" cx="371.0" cy="211.6" r="4.9"/><circle class="r" cx="325.6" cy="234.4" r="4.9"/><circle class="r" cx="325.6" cy="234.4" r="4.9"/><circle class="r" cx="317.0" cy="244.4" r="4.9"/><circle class="r" cx="317.0" cy="244.4" r="4.9"/><circle class="r" cx="314.0" cy="247.0" r="4.9"/><circle class="r" cx="314.0" cy="247.0" r="4.9"/><circle class="r" cx="311.4" cy="250.0" r="4.9"/><circle class="r" cx="311.4" cy="250.0" r="4.9"/><circle class="r" cx="407.0" cy="229.6" r="4.9"/><circle class="r" cx="407.0" cy="229.6" r="4.9"/><circle class="r" cx="413.0" cy="230.0" r="4.9"/><circle class="r" cx="411.6" cy="229.8" r="4.9"/><circle class="r" cx="417.0" cy="229.0" r="4.9"/><circle class="r" cx="417.0" cy="229.0" r="4.9"/><circle class="r" cx="420.6" cy="228.4" r="4.9"/><circle class="r" cx="420.6" cy="228.4" r="4.9"/><circle class="r" cx="268.0" cy="280.0" r="4.9"/><circle class="r" cx="268.0" cy="280.0" r="4.9"/><circle class="r" cx="272.0" cy="283.6" r="4.9"/><circle class="r" cx="273.0" cy="283.7" r="4.9"/><circle class="r" cx="275.0" cy="286.0" r="4.9"/><circle class="r" cx="275.0" cy="286.0" r="4.9"/><circle class="r" cx="278.0" cy="289.4" r="4.9"/><circle class="r" cx="290.0" cy="298.0" r="4.9"/><circle class="r" cx="288.9" cy="296.6" r="4.9"/><circle class="r" cx="298.0" cy="297.6" r="4.9"/><circle class="r" cx="298.0" cy="297.6" r="4.9"/><circle class="r" cx="316.6" cy="287.0" r="4.9"/><circle class="r" cx="316.6" cy="287.0" r="4.9"/><circle class="r" cx="320.6" cy="282.4" r="4.9"/><circle class="r" cx="320.6" cy="282.4" r="4.9"/><circle class="r" cx="329.0" cy="277.6" r="4.9"/><circle class="r" cx="337.4" cy="276.4" r="4.9"/><circle class="r" cx="337.4" cy="276.4" r="4.9"/><circle class="r" cx="348.0" cy="276.0" r="4.9"/><circle class="r" cx="348.0" cy="276.0" r="4.9"/><circle class="r" cx="347.0" cy="281.0" r="4.9"/><circle class="r" cx="348.2" cy="281.2" r="4.9"/><circle class="r" cx="353.0" cy="279.0" r="4.9"/><circle class="r" cx="352.5" cy="278.0" r="4.9"/><circle class="r" cx="349.0" cy="288.0" r="4.9"/><circle class="r" cx="349.0" cy="288.0" r="4.9"/><circle class="r" cx="355.0" cy="285.0" r="4.9"/><circle class="r" cx="354.1" cy="283.4" r="4.9"/><circle class="r" cx="355.1" cy="285.5" r="4.9"/><circle class="r" cx="360.0" cy="282.0" r="4.9"/><circle class="r" cx="359.4" cy="283.0" r="4.9"/><circle class="r" cx="359.7" cy="281.3" r="4.9"/><circle class="r" cx="358.0" cy="290.0" r="4.9"/><circle class="r" cx="358.5" cy="288.5" r="4.9"/><circle class="r" cx="363.0" cy="287.0" r="4.9"/><circle class="r" cx="362.2" cy="287.0" r="4.9"/><circle class="r" cx="364.0" cy="286.8" r="4.9"/><circle class="r" cx="369.0" cy="288.0" r="4.9"/><circle class="r" cx="367.0" cy="281.0" r="4.9"/><circle class="r" cx="367.1" cy="281.8" r="4.9"/><circle class="r" cx="367.1" cy="280.1" r="4.9"/><circle class="r" cx="372.0" cy="279.0" r="4.9"/><circle class="r" cx="365.0" cy="274.0" r="4.9"/><circle class="r" cx="364.2" cy="274.0" r="4.9"/><circle class="r" cx="364.0" cy="267.0" r="4.9"/><circle class="r" cx="364.0" cy="267.0" r="4.9"/><circle class="r" cx="370.0" cy="268.0" r="4.9"/><circle class="r" cx="368.7" cy="268.7" r="4.9"/><circle class="r" cx="375.0" cy="266.0" r="4.9"/><circle class="r" cx="379.0" cy="264.4" r="4.9"/><circle class="r" cx="379.0" cy="264.4" r="4.9"/><circle class="r" cx="367.4" cy="298.0" r="4.9"/><circle class="r" cx="367.4" cy="298.0" r="4.9"/><circle class="r" cx="382.0" cy="280.4" r="4.9"/><circle class="r" cx="382.0" cy="280.4" r="4.9"/><circle class="r" cx="385.0" cy="285.0" r="4.9"/><circle class="r" cx="385.7" cy="284.9" r="4.9"/><circle class="r" cx="389.0" cy="279.6" r="4.9"/><circle class="r" cx="389.6" cy="279.8" r="4.9"/><circle class="r" cx="387.0" cy="288.0" r="4.9"/><circle class="r" cx="385.6" cy="289.1" r="4.9"/><circle class="r" cx="392.0" cy="292.0" r="4.9"/><circle class="r" cx="393.2" cy="290.9" r="4.9"/><circle class="r" cx="397.0" cy="295.0" r="4.9"/><circle class="r" cx="398.9" cy="295.0" r="4.9"/><circle class="r" cx="403.0" cy="295.0" r="4.9"/><circle class="r" cx="403.0" cy="295.0" r="4.9"/><circle class="r" cx="388.0" cy="298.0" r="4.9"/><circle class="r" cx="388.8" cy="299.7" r="4.9"/><circle class="r" cx="414.0" cy="264.0" r="4.9"/><circle class="r" cx="414.0" cy="264.0" r="4.9"/><circle class="r" cx="420.0" cy="267.4" r="4.9"/><circle class="r" cx="420.0" cy="267.4" r="4.9"/><circle class="r" cx="426.0" cy="266.0" r="4.9"/><circle class="r" cx="426.0" cy="266.0" r="4.9"/><circle class="r" cx="431.0" cy="264.0" r="4.9"/><circle class="r" cx="431.0" cy="264.0" r="4.9"/><circle class="r" cx="419.0" cy="283.0" r="4.9"/><circle class="r" cx="419.0" cy="283.0" r="4.9"/><circle class="r" cx="420.0" cy="288.0" r="4.9"/><circle class="r" cx="419.6" cy="288.7" r="4.9"/><circle class="r" cx="415.0" cy="293.0" r="4.9"/><circle class="r" cx="415.0" cy="293.0" r="4.9"/><circle class="r" cx="422.0" cy="296.0" r="4.9"/><circle class="r" cx="421.8" cy="297.0" r="4.9"/><circle class="r" cx="434.0" cy="289.0" r="4.9"/><circle class="r" cx="430.0" cy="298.0" r="4.9"/><circle class="r" cx="431.4" cy="299.4" r="4.9"/><circle class="r" cx="437.0" cy="298.0" r="4.9"/><circle class="r" cx="437.0" cy="298.0" r="4.9"/><circle class="r" cx="436.0" cy="242.0" r="4.9"/><circle class="r" cx="436.0" cy="242.0" r="4.9"/><circle class="r" cx="442.0" cy="245.0" r="4.9"/><circle class="r" cx="435.0" cy="254.0" r="4.9"/><circle class="r" cx="440.0" cy="258.0" r="4.9"/><circle class="r" cx="439.5" cy="258.2" r="4.9"/><circle class="r" cx="436.0" cy="274.0" r="4.9"/><circle class="r" cx="436.0" cy="274.0" r="4.9"/><circle class="r" cx="443.0" cy="266.0" r="4.9"/><circle class="r" cx="441.7" cy="267.3" r="4.9"/><circle class="r" cx="444.0" cy="237.0" r="4.9"/><circle class="r" cx="444.4" cy="238.0" r="4.9"/><circle class="r" cx="443.0" cy="274.0" r="4.9"/><circle class="r" cx="443.4" cy="273.7" r="4.9"/><circle class="b" cx="515.0" cy="275.6" r="4.9"/><circle class="b" cx="515.0" cy="275.6" r="4.9"/><circle class="b" cx="518.0" cy="293.0" r="4.9"/><circle class="b" cx="533.0" cy="298.0" r="4.9"/><circle class="b" cx="540.0" cy="299.0" r="4.9"/><circle class="b" cx="540.5" cy="299.1" r="4.9"/><circle class="b" cx="547.0" cy="295.0" r="4.9"/><circle class="b" cx="547.0" cy="295.0" r="4.9"/><circle class="b" cx="552.0" cy="294.4" r="4.9"/><circle class="b" cx="557.0" cy="296.4" r="4.9"/><circle class="b" cx="556.9" cy="298.0" r="4.9"/><circle class="b" cx="562.0" cy="292.0" r="4.9"/><circle class="b" cx="562.8" cy="291.4" r="4.9"/><circle class="b" cx="569.0" cy="291.0" r="4.9"/><circle class="b" cx="568.7" cy="292.9" r="4.9"/><circle class="b" cx="573.0" cy="294.0" r="4.9"/><circle class="b" cx="572.3" cy="293.4" r="4.9"/><circle class="b" cx="565.0" cy="297.0" r="4.9"/><circle class="b" cx="564.8" cy="296.0" r="4.9"/><circle class="b" cx="564.9" cy="297.5" r="4.9"/><circle class="b" cx="570.0" cy="298.0" r="4.9"/><circle class="b" cx="570.1" cy="296.1" r="4.9"/><circle class="r" cx="486.4" cy="179.0" r="4.9"/><circle class="r" cx="486.4" cy="179.0" r="4.9"/><circle class="r" cx="498.0" cy="187.6" r="4.9"/><circle class="r" cx="506.0" cy="175.0" r="4.9"/><circle class="r" cx="506.0" cy="175.0" r="4.9"/><circle class="r" cx="513.0" cy="177.0" r="4.9"/><circle class="r" cx="513.1" cy="178.2" r="4.9"/><circle class="r" cx="516.0" cy="181.0" r="4.9"/><circle class="r" cx="520.0" cy="184.4" r="4.9"/><circle class="r" cx="518.0" cy="171.0" r="4.9"/><circle class="r" cx="517.3" cy="171.6" r="4.9"/><circle class="r" cx="529.0" cy="170.0" r="4.9"/><circle class="r" cx="529.0" cy="170.0" r="4.9"/><circle class="r" cx="509.4" cy="209.0" r="4.9"/><circle class="r" cx="509.4" cy="209.0" r="4.9"/><circle class="r" cx="513.0" cy="209.0" r="4.9"/><circle class="r" cx="517.0" cy="209.6" r="4.9"/><circle class="r" cx="517.0" cy="209.6" r="4.9"/><circle class="r" cx="527.4" cy="212.0" r="4.9"/><circle class="r" cx="527.9" cy="210.5" r="4.9"/><circle class="r" cx="528.1" cy="210.5" r="4.9"/><circle class="r" cx="531.0" cy="209.0" r="4.9"/><circle class="r" cx="530.2" cy="208.4" r="4.9"/><circle class="r" cx="530.6" cy="209.9" r="4.9"/><circle class="r" cx="535.0" cy="208.0" r="4.9"/><circle class="r" cx="535.1" cy="207.4" r="4.9"/><circle class="r" cx="535.5" cy="209.5" r="4.9"/><circle class="r" cx="533.0" cy="215.0" r="4.9"/><circle class="r" cx="533.0" cy="215.6" r="4.9"/><circle class="r" cx="534.3" cy="215.3" r="4.9"/><circle class="r" cx="542.0" cy="210.6" r="4.9"/><circle class="r" cx="542.0" cy="210.6" r="4.9"/><circle class="r" cx="536.0" cy="213.0" r="4.9"/><circle class="r" cx="537.8" cy="212.8" r="4.9"/><circle class="r" cx="536.9" cy="212.9" r="4.9"/><circle class="r" cx="530.0" cy="214.4" r="4.9"/><circle class="r" cx="530.6" cy="214.7" r="4.9"/><circle class="r" cx="528.4" cy="214.4" r="4.9"/><circle class="r" cx="449.4" cy="205.0" r="4.9"/><circle class="r" cx="449.4" cy="205.0" r="4.9"/><circle class="r" cx="451.0" cy="210.0" r="4.9"/><circle class="r" cx="451.0" cy="210.0" r="4.9"/><circle class="r" cx="457.0" cy="221.0" r="4.9"/><circle class="r" cx="457.0" cy="221.0" r="4.9"/><circle class="r" cx="459.0" cy="227.0" r="4.9"/><circle class="r" cx="457.9" cy="226.0" r="4.9"/><circle class="r" cx="458.0" cy="230.0" r="4.9"/><circle class="r" cx="458.0" cy="230.0" r="4.9"/><circle class="r" cx="465.0" cy="232.0" r="4.9"/><circle class="r" cx="465.9" cy="230.8" r="4.9"/><circle class="r" cx="473.0" cy="235.0" r="4.9"/><circle class="r" cx="473.0" cy="235.0" r="4.9"/><circle class="r" cx="447.0" cy="237.0" r="4.9"/><circle class="r" cx="452.0" cy="241.0" r="4.9"/><circle class="r" cx="451.6" cy="242.3" r="4.9"/><circle class="r" cx="459.0" cy="239.0" r="4.9"/><circle class="r" cx="459.0" cy="239.0" r="4.9"/><circle class="r" cx="467.0" cy="243.0" r="4.9"/><circle class="r" cx="467.0" cy="243.0" r="4.9"/><circle class="r" cx="457.0" cy="249.0" r="4.9"/><circle class="r" cx="457.0" cy="249.0" r="4.9"/><circle class="r" cx="471.0" cy="249.0" r="4.9"/><circle class="r" cx="471.0" cy="249.9" r="4.9"/><circle class="r" cx="475.0" cy="252.0" r="4.9"/><circle class="r" cx="476.0" cy="253.5" r="4.9"/><circle class="r" cx="480.0" cy="253.0" r="4.9"/><circle class="r" cx="480.0" cy="253.0" r="4.9"/><circle class="r" cx="470.0" cy="254.0" r="4.9"/><circle class="r" cx="469.5" cy="255.0" r="4.9"/><circle class="r" cx="458.0" cy="254.0" r="4.9"/><circle class="r" cx="446.0" cy="261.0" r="4.9"/><circle class="r" cx="446.0" cy="261.0" r="4.9"/><circle class="r" cx="455.0" cy="261.0" r="4.9"/><circle class="r" cx="455.2" cy="262.7" r="4.9"/><circle class="r" cx="465.0" cy="260.0" r="4.9"/><circle class="r" cx="463.9" cy="258.4" r="4.9"/><circle class="r" cx="460.0" cy="266.0" r="4.9"/><circle class="r" cx="461.0" cy="266.7" r="4.9"/><circle class="r" cx="467.0" cy="268.0" r="4.9"/><circle class="r" cx="467.7" cy="266.4" r="4.9"/><circle class="r" cx="473.0" cy="268.0" r="4.9"/><circle class="r" cx="454.0" cy="269.0" r="4.9"/><circle class="r" cx="454.9" cy="269.2" r="4.9"/><circle class="r" cx="447.0" cy="270.0" r="4.9"/><circle class="r" cx="447.6" cy="270.5" r="4.9"/><circle class="r" cx="457.0" cy="277.0" r="4.9"/><circle class="r" cx="452.0" cy="287.0" r="4.9"/><circle class="r" cx="452.0" cy="287.0" r="4.9"/><circle class="r" cx="448.0" cy="292.0" r="4.9"/><circle class="r" cx="450.0" cy="298.0" r="4.9"/><circle class="r" cx="450.0" cy="298.0" r="4.9"/><circle class="r" cx="490.6" cy="257.0" r="4.9"/><circle class="r" cx="487.0" cy="263.0" r="4.9"/><circle class="r" cx="487.0" cy="263.0" r="4.9"/><circle class="r" cx="501.4" cy="265.6" r="4.9"/><circle class="r" cx="501.3" cy="267.3" r="4.9"/><circle class="r" cx="509.0" cy="269.6" r="4.9"/><circle class="r" cx="505.0" cy="273.0" r="4.9"/><circle class="r" cx="506.1" cy="273.9" r="4.9"/><circle class="r" cx="504.4" cy="272.4" r="4.9"/><circle class="r" cx="498.0" cy="273.0" r="4.9"/><circle class="r" cx="497.5" cy="273.5" r="4.9"/><circle class="r" cx="498.3" cy="273.8" r="4.9"/><circle class="r" cx="491.0" cy="272.0" r="4.9"/><circle class="r" cx="489.8" cy="271.1" r="4.9"/><circle class="r" cx="482.0" cy="273.0" r="4.9"/><circle class="r" cx="482.0" cy="273.0" r="4.9"/><circle class="r" cx="477.0" cy="278.0" r="4.9"/><circle class="r" cx="477.0" cy="278.0" r="4.9"/><circle class="r" cx="486.0" cy="277.0" r="4.9"/><circle class="r" cx="485.3" cy="278.3" r="4.9"/><circle class="r" cx="493.0" cy="279.0" r="4.9"/><circle class="r" cx="493.4" cy="279.9" r="4.9"/><circle class="r" cx="493.5" cy="280.6" r="4.9"/><circle class="r" cx="500.0" cy="279.0" r="4.9"/><circle class="r" cx="499.4" cy="278.8" r="4.9"/><circle class="r" cx="500.9" cy="279.7" r="4.9"/><circle class="r" cx="507.0" cy="280.0" r="4.9"/><circle class="r" cx="505.6" cy="279.5" r="4.9"/><circle class="r" cx="492.0" cy="282.0" r="4.9"/><circle class="r" cx="492.6" cy="282.4" r="4.9"/><circle class="r" cx="508.0" cy="286.0" r="4.9"/><circle class="r" cx="508.0" cy="286.0" r="4.9"/><circle class="r" cx="503.0" cy="292.0" r="4.9"/><circle class="r" cx="503.0" cy="292.0" r="4.9"/><circle class="r" cx="511.0" cy="295.0" r="4.9"/><circle class="r" cx="511.0" cy="295.0" r="4.9"/><circle class="r" cx="485.0" cy="293.6" r="4.9"/><circle class="r" cx="485.0" cy="293.6" r="4.9"/><circle class="r" cx="522.0" cy="281.0" r="4.9"/><circle class="r" cx="526.0" cy="286.0" r="4.9"/><circle class="r" cx="526.0" cy="286.0" r="4.9"/><circle class="r" cx="529.0" cy="289.6" r="4.9"/><circle class="r" cx="529.0" cy="289.6" r="4.9"/><circle class="r" cx="151.6" cy="302.0" r="4.9"/><circle class="r" cx="151.6" cy="302.0" r="4.9"/><circle class="r" cx="185.0" cy="303.0" r="4.9"/><circle class="r" cx="185.0" cy="303.0" r="4.9"/><circle class="r" cx="191.0" cy="304.0" r="4.9"/><circle class="r" cx="194.0" cy="315.0" r="4.9"/><circle class="r" cx="192.0" cy="318.0" r="4.9"/><circle class="r" cx="192.0" cy="318.0" r="4.9"/><circle class="r" cx="173.0" cy="317.6" r="4.9"/><circle class="r" cx="173.0" cy="317.6" r="4.9"/><circle class="r" cx="178.0" cy="320.0" r="4.9"/><circle class="r" cx="178.0" cy="320.0" r="4.9"/><circle class="r" cx="181.0" cy="324.0" r="4.9"/><circle class="r" cx="181.0" cy="324.0" r="4.9"/><circle class="r" cx="216.6" cy="319.0" r="4.9"/><circle class="r" cx="216.6" cy="319.0" r="4.9"/><circle class="r" cx="162.0" cy="330.0" r="4.9"/><circle class="r" cx="161.4" cy="337.0" r="4.9"/><circle class="r" cx="161.4" cy="337.0" r="4.9"/><circle class="r" cx="163.4" cy="341.0" r="4.9"/><circle class="r" cx="190.0" cy="330.0" r="4.9"/><circle class="r" cx="190.0" cy="330.0" r="4.9"/><circle class="r" cx="193.0" cy="334.0" r="4.9"/><circle class="r" cx="199.0" cy="333.0" r="4.9"/><circle class="r" cx="198.3" cy="333.2" r="4.9"/><circle class="r" cx="204.0" cy="336.0" r="4.9"/><circle class="r" cx="205.3" cy="336.1" r="4.9"/><circle class="r" cx="201.0" cy="341.0" r="4.9"/><circle class="r" cx="199.8" cy="339.6" r="4.9"/><circle class="r" cx="206.0" cy="343.0" r="4.9"/><circle class="r" cx="206.0" cy="343.0" r="4.9"/><circle class="r" cx="215.0" cy="347.0" r="4.9"/><circle class="r" cx="215.0" cy="347.0" r="4.9"/><circle class="r" cx="188.6" cy="346.6" r="4.9"/><circle class="r" cx="188.6" cy="346.6" r="4.9"/><circle class="r" cx="226.6" cy="347.6" r="4.9"/><circle class="r" cx="226.6" cy="347.6" r="4.9"/><circle class="r" cx="235.0" cy="344.0" r="4.9"/><circle class="r" cx="235.0" cy="344.0" r="4.9"/><circle class="r" cx="236.0" cy="349.0" r="4.9"/><circle class="r" cx="236.0" cy="349.0" r="4.9"/><circle class="r" cx="243.0" cy="340.0" r="4.9"/><circle class="r" cx="243.0" cy="340.0" r="4.9"/><circle class="r" cx="177.4" cy="358.6" r="4.9"/><circle class="r" cx="183.0" cy="368.6" r="4.9"/><circle class="r" cx="183.0" cy="368.6" r="4.9"/><circle class="r" cx="185.0" cy="357.0" r="4.9"/><circle class="r" cx="185.0" cy="357.0" r="4.9"/><circle class="r" cx="190.0" cy="355.0" r="4.9"/><circle class="r" cx="190.7" cy="353.2" r="4.9"/><circle class="r" cx="195.0" cy="353.0" r="4.9"/><circle class="r" cx="195.2" cy="353.7" r="4.9"/><circle class="r" cx="201.0" cy="352.0" r="4.9"/><circle class="r" cx="202.8" cy="351.3" r="4.9"/><circle class="r" cx="207.0" cy="353.0" r="4.9"/><circle class="r" cx="207.0" cy="353.0" r="4.9"/><circle class="r" cx="211.0" cy="357.0" r="4.9"/><circle class="r" cx="212.8" cy="357.6" r="4.9"/><circle class="r" cx="194.0" cy="362.0" r="4.9"/><circle class="r" cx="194.0" cy="362.0" r="4.9"/><circle class="r" cx="199.0" cy="360.0" r="4.9"/><circle class="r" cx="200.2" cy="359.2" r="4.9"/><circle class="r" cx="205.0" cy="362.0" r="4.9"/><circle class="r" cx="205.3" cy="361.3" r="4.9"/><circle class="r" cx="211.0" cy="364.0" r="4.9"/><circle class="r" cx="211.2" cy="363.2" r="4.9"/><circle class="r" cx="209.5" cy="365.0" r="4.9"/><circle class="r" cx="217.0" cy="362.0" r="4.9"/><circle class="r" cx="217.4" cy="361.3" r="4.9"/><circle class="r" cx="220.0" cy="359.0" r="4.9"/><circle class="r" cx="220.2" cy="360.1" r="4.9"/><circle class="r" cx="204.0" cy="368.0" r="4.9"/><circle class="r" cx="202.9" cy="367.9" r="4.9"/><circle class="r" cx="210.0" cy="370.0" r="4.9"/><circle class="r" cx="210.6" cy="370.6" r="4.9"/><circle class="r" cx="209.0" cy="377.0" r="4.9"/><circle class="r" cx="208.7" cy="375.2" r="4.9"/><circle class="r" cx="215.0" cy="374.0" r="4.9"/><circle class="r" cx="216.3" cy="374.3" r="4.9"/><circle class="r" cx="221.0" cy="379.0" r="4.9"/><circle class="r" cx="221.0" cy="378.4" r="4.9"/><circle class="r" cx="216.0" cy="382.4" r="4.9"/><circle class="r" cx="216.4" cy="381.8" r="4.9"/><circle class="r" cx="221.0" cy="366.0" r="4.9"/><circle class="r" cx="219.9" cy="365.2" r="4.9"/><circle class="r" cx="226.0" cy="364.0" r="4.9"/><circle class="r" cx="225.3" cy="363.3" r="4.9"/><circle class="r" cx="231.0" cy="360.0" r="4.9"/><circle class="r" cx="231.0" cy="360.0" r="4.9"/><circle class="r" cx="237.0" cy="362.0" r="4.9"/><circle class="r" cx="236.0" cy="361.4" r="4.9"/><circle class="r" cx="243.0" cy="361.0" r="4.9"/><circle class="r" cx="242.4" cy="360.0" r="4.9"/><circle class="r" cx="229.0" cy="369.0" r="4.9"/><circle class="r" cx="228.5" cy="369.2" r="4.9"/><circle class="r" cx="228.1" cy="368.2" r="4.9"/><circle class="r" cx="235.0" cy="369.0" r="4.9"/><circle class="r" cx="235.2" cy="370.6" r="4.9"/><circle class="r" cx="235.2" cy="367.8" r="4.9"/><circle class="r" cx="241.0" cy="368.0" r="4.9"/><circle class="r" cx="241.5" cy="369.1" r="4.9"/><circle class="r" cx="241.5" cy="368.4" r="4.9"/><circle class="r" cx="227.0" cy="373.0" r="4.9"/><circle class="r" cx="226.4" cy="373.3" r="4.9"/><circle class="r" cx="233.0" cy="377.0" r="4.9"/><circle class="r" cx="231.8" cy="377.5" r="4.9"/><circle class="r" cx="239.0" cy="380.0" r="4.9"/><circle class="r" cx="240.4" cy="380.4" r="4.9"/><circle class="r" cx="243.0" cy="375.0" r="4.9"/><circle class="r" cx="244.4" cy="375.8" r="4.9"/><circle class="r" cx="242.0" cy="389.0" r="4.9"/><circle class="r" cx="244.0" cy="384.0" r="4.9"/><circle class="r" cx="243.4" cy="384.0" r="4.9"/><circle class="b" cx="264.0" cy="406.0" r="4.9"/><circle class="b" cx="283.0" cy="397.6" r="4.9"/><circle class="b" cx="283.0" cy="397.6" r="4.9"/><circle class="b" cx="287.0" cy="396.0" r="4.9"/><circle class="b" cx="418.0" cy="323.0" r="4.9"/><circle class="b" cx="418.0" cy="323.0" r="4.9"/><circle class="b" cx="426.0" cy="323.6" r="4.9"/><circle class="b" cx="435.0" cy="324.0" r="4.9"/><circle class="b" cx="431.0" cy="320.0" r="4.9"/><circle class="r" cx="285.0" cy="303.0" r="4.9"/><circle class="r" cx="290.0" cy="310.0" r="4.9"/><circle class="r" cx="290.0" cy="310.0" r="4.9"/><circle class="r" cx="295.0" cy="304.0" r="4.9"/><circle class="r" cx="296.2" cy="303.9" r="4.9"/><circle class="r" cx="302.0" cy="309.0" r="4.9"/><circle class="r" cx="303.8" cy="308.5" r="4.9"/><circle class="r" cx="309.0" cy="307.0" r="4.9"/><circle class="r" cx="309.9" cy="308.4" r="4.9"/><circle class="r" cx="316.0" cy="308.0" r="4.9"/><circle class="r" cx="319.0" cy="307.0" r="4.9"/><circle class="r" cx="319.0" cy="307.0" r="4.9"/><circle class="r" cx="301.0" cy="316.0" r="4.9"/><circle class="r" cx="300.0" cy="317.3" r="4.9"/><circle class="r" cx="307.0" cy="315.0" r="4.9"/><circle class="r" cx="308.0" cy="316.5" r="4.9"/><circle class="r" cx="306.7" cy="316.7" r="4.9"/><circle class="r" cx="313.0" cy="318.0" r="4.9"/><circle class="r" cx="313.8" cy="319.0" r="4.9"/><circle class="r" cx="309.0" cy="322.0" r="4.9"/><circle class="r" cx="309.7" cy="321.6" r="4.9"/><circle class="r" cx="308.9" cy="323.3" r="4.9"/><circle class="r" cx="315.0" cy="325.0" r="4.9"/><circle class="r" cx="315.0" cy="325.0" r="4.9"/><circle class="r" cx="295.0" cy="323.0" r="4.9"/><circle class="r" cx="295.0" cy="323.0" r="4.9"/><circle class="r" cx="301.0" cy="324.0" r="4.9"/><circle class="r" cx="301.3" cy="324.7" r="4.9"/><circle class="r" cx="286.0" cy="327.0" r="4.9"/><circle class="r" cx="291.0" cy="330.0" r="4.9"/><circle class="r" cx="290.2" cy="328.3" r="4.9"/><circle class="r" cx="296.0" cy="332.0" r="4.9"/><circle class="r" cx="296.0" cy="332.0" r="4.9"/><circle class="r" cx="293.0" cy="337.0" r="4.9"/><circle class="r" cx="293.1" cy="336.3" r="4.9"/><circle class="r" cx="292.0" cy="341.0" r="4.9"/><circle class="r" cx="292.0" cy="341.0" r="4.9"/><circle class="r" cx="305.0" cy="326.0" r="4.9"/><circle class="r" cx="305.0" cy="326.0" r="4.9"/><circle class="r" cx="246.6" cy="340.0" r="4.9"/><circle class="r" cx="246.6" cy="340.0" r="4.9"/><circle class="r" cx="252.6" cy="343.0" r="4.9"/><circle class="r" cx="273.0" cy="339.0" r="4.9"/><circle class="r" cx="273.0" cy="339.0" r="4.9"/><circle class="r" cx="270.0" cy="343.0" r="4.9"/><circle class="r" cx="270.0" cy="343.0" r="4.9"/><circle class="r" cx="266.0" cy="349.0" r="4.9"/><circle class="r" cx="271.0" cy="352.4" r="4.9"/><circle class="r" cx="271.0" cy="352.4" r="4.9"/><circle class="r" cx="281.0" cy="351.0" r="4.9"/><circle class="r" cx="288.0" cy="354.0" r="4.9"/><circle class="r" cx="288.0" cy="354.0" r="4.9"/><circle class="r" cx="278.6" cy="359.0" r="4.9"/><circle class="r" cx="278.6" cy="359.0" r="4.9"/><circle class="r" cx="246.0" cy="364.0" r="4.9"/><circle class="r" cx="246.3" cy="363.1" r="4.9"/><circle class="r" cx="248.0" cy="371.0" r="4.9"/><circle class="r" cx="249.4" cy="370.9" r="4.9"/><circle class="r" cx="259.0" cy="372.4" r="4.9"/><circle class="r" cx="259.0" cy="372.4" r="4.9"/><circle class="r" cx="247.0" cy="386.0" r="4.9"/><circle class="r" cx="247.1" cy="384.8" r="4.9"/><circle class="r" cx="251.0" cy="390.0" r="4.9"/><circle class="r" cx="251.0" cy="390.0" r="4.9"/><circle class="r" cx="294.6" cy="371.0" r="4.9"/><circle class="r" cx="294.6" cy="371.0" r="4.9"/><circle class="r" cx="304.6" cy="371.0" r="4.9"/><circle class="r" cx="304.6" cy="371.0" r="4.9"/><circle class="r" cx="298.0" cy="379.6" r="4.9"/><circle class="r" cx="287.0" cy="385.0" r="4.9"/><circle class="r" cx="287.0" cy="385.0" r="4.9"/><circle class="r" cx="286.0" cy="389.0" r="4.9"/><circle class="r" cx="286.0" cy="389.0" r="4.9"/><circle class="r" cx="279.0" cy="391.0" r="4.9"/><circle class="r" cx="280.4" cy="390.9" r="4.9"/><circle class="r" cx="273.0" cy="394.0" r="4.9"/><circle class="r" cx="273.0" cy="394.0" r="4.9"/><circle class="r" cx="264.0" cy="397.0" r="4.9"/><circle class="r" cx="264.0" cy="397.0" r="4.9"/><circle class="r" cx="277.0" cy="396.0" r="4.9"/><circle class="r" cx="277.0" cy="396.0" r="4.9"/><circle class="r" cx="270.0" cy="408.0" r="4.9"/><circle class="r" cx="270.0" cy="408.0" r="4.9"/><circle class="r" cx="316.6" cy="369.0" r="4.9"/><circle class="r" cx="316.6" cy="369.0" r="4.9"/><circle class="r" cx="322.0" cy="366.0" r="4.9"/><circle class="r" cx="322.0" cy="366.0" r="4.9"/><circle class="r" cx="326.0" cy="364.0" r="4.9"/><circle class="r" cx="326.0" cy="364.0" r="4.9"/><circle class="r" cx="352.0" cy="366.0" r="4.9"/><circle class="r" cx="352.0" cy="366.0" r="4.9"/><circle class="r" cx="367.0" cy="300.0" r="4.9"/><circle class="r" cx="383.0" cy="309.0" r="4.9"/><circle class="r" cx="383.0" cy="309.0" r="4.9"/><circle class="r" cx="387.4" cy="318.0" r="4.9"/><circle class="r" cx="387.4" cy="318.0" r="4.9"/><circle class="r" cx="389.0" cy="304.0" r="4.9"/><circle class="r" cx="388.7" cy="303.6" r="4.9"/><circle class="r" cx="395.0" cy="303.0" r="4.9"/><circle class="r" cx="396.0" cy="303.0" r="4.9"/><circle class="r" cx="405.0" cy="300.0" r="4.9"/><circle class="r" cx="405.0" cy="300.0" r="4.9"/><circle class="r" cx="419.0" cy="317.0" r="4.9"/><circle class="r" cx="419.0" cy="317.0" r="4.9"/><circle class="r" cx="427.0" cy="318.0" r="4.9"/><circle class="r" cx="427.0" cy="318.0" r="4.9"/><circle class="r" cx="435.0" cy="318.4" r="4.9"/><circle class="r" cx="435.0" cy="318.4" r="4.9"/><circle class="r" cx="430.0" cy="305.0" r="4.9"/><circle class="r" cx="430.0" cy="305.0" r="4.9"/><circle class="r" cx="437.0" cy="302.0" r="4.9"/><circle class="r" cx="437.4" cy="303.4" r="4.9"/><circle class="r" cx="434.0" cy="357.0" r="4.9"/><circle class="r" cx="433.3" cy="357.1" r="4.9"/><circle class="r" cx="429.0" cy="362.4" r="4.9"/><circle class="r" cx="440.0" cy="363.0" r="4.9"/><circle class="r" cx="440.0" cy="363.7" r="4.9"/><circle class="r" cx="441.0" cy="370.0" r="4.9"/><circle class="r" cx="441.0" cy="370.0" r="4.9"/><circle class="r" cx="437.0" cy="360.0" r="4.9"/><circle class="r" cx="435.8" cy="358.6" r="4.9"/><circle class="r" cx="305.0" cy="426.0" r="4.9"/><circle class="r" cx="305.2" cy="424.9" r="4.9"/><circle class="r" cx="312.0" cy="424.4" r="4.9"/><circle class="r" cx="312.0" cy="424.4" r="4.9"/><circle class="r" cx="322.0" cy="428.0" r="4.9"/><circle class="r" cx="322.0" cy="428.0" r="4.9"/><circle class="b" cx="326.0" cy="370.0" r="4.9"/><circle class="b" cx="326.0" cy="374.0" r="4.9"/><circle class="b" cx="330.0" cy="381.0" r="4.9"/><circle class="b" cx="330.0" cy="381.0" r="4.9"/><circle class="b" cx="307.0" cy="383.0" r="4.9"/><circle class="b" cx="303.0" cy="388.0" r="4.9"/><circle class="b" cx="301.2" cy="388.7" r="4.9"/><circle class="b" cx="299.0" cy="392.0" r="4.9"/><circle class="b" cx="306.0" cy="395.0" r="4.9"/><circle class="b" cx="306.0" cy="395.0" r="4.9"/><circle class="b" cx="320.0" cy="381.0" r="4.9"/><circle class="b" cx="317.0" cy="386.0" r="4.9"/><circle class="b" cx="318.2" cy="386.4" r="4.9"/><circle class="b" cx="323.0" cy="388.0" r="4.9"/><circle class="b" cx="322.3" cy="388.5" r="4.9"/><circle class="b" cx="328.0" cy="388.0" r="4.9"/><circle class="b" cx="329.6" cy="388.6" r="4.9"/><circle class="b" cx="315.0" cy="392.0" r="4.9"/><circle class="b" cx="316.3" cy="392.1" r="4.9"/><circle class="b" cx="321.0" cy="391.0" r="4.9"/><circle class="b" cx="321.7" cy="390.7" r="4.9"/><circle class="b" cx="350.6" cy="370.0" r="4.9"/><circle class="b" cx="350.6" cy="370.0" r="4.9"/><circle class="b" cx="369.0" cy="381.0" r="4.9"/><circle class="b" cx="388.0" cy="377.6" r="4.9"/><circle class="b" cx="405.0" cy="381.0" r="4.9"/><circle class="b" cx="400.0" cy="382.4" r="4.9"/><circle class="b" cx="395.0" cy="387.0" r="4.9"/><circle class="b" cx="395.0" cy="387.0" r="4.9"/><circle class="b" cx="387.0" cy="393.0" r="4.9"/><circle class="b" cx="386.7" cy="393.9" r="4.9"/><circle class="b" cx="383.0" cy="398.0" r="4.9"/><circle class="b" cx="384.7" cy="398.6" r="4.9"/><circle class="b" cx="377.0" cy="400.0" r="4.9"/><circle class="b" cx="389.0" cy="399.0" r="4.9"/><circle class="b" cx="388.9" cy="398.5" r="4.9"/><circle class="b" cx="394.0" cy="398.0" r="4.9"/><circle class="b" cx="394.9" cy="396.7" r="4.9"/><circle class="b" cx="392.0" cy="404.0" r="4.9"/><circle class="b" cx="390.4" cy="404.3" r="4.9"/><circle class="b" cx="398.0" cy="406.0" r="4.9"/><circle class="b" cx="407.4" cy="403.0" r="4.9"/><circle class="b" cx="407.4" cy="403.0" r="4.9"/><circle class="b" cx="415.4" cy="400.0" r="4.9"/><circle class="b" cx="415.4" cy="400.0" r="4.9"/><circle class="b" cx="389.4" cy="424.0" r="4.9"/><circle class="b" cx="389.4" cy="424.0" r="4.9"/><circle class="b" cx="347.0" cy="429.0" r="4.9"/><circle class="b" cx="347.0" cy="429.0" r="4.9"/><circle class="b" cx="425.0" cy="372.4" r="4.9"/><circle class="b" cx="425.0" cy="372.4" r="4.9"/><circle class="b" cx="431.0" cy="370.0" r="4.9"/><circle class="b" cx="431.0" cy="380.0" r="4.9"/><circle class="b" cx="443.0" cy="311.0" r="4.9"/><circle class="r" cx="478.0" cy="320.0" r="4.9"/><circle class="r" cx="478.0" cy="320.0" r="4.9"/><circle class="r" cx="477.0" cy="322.0" r="4.9"/><circle class="r" cx="477.0" cy="322.0" r="4.9"/><circle class="r" cx="509.0" cy="311.0" r="4.9"/><circle class="r" cx="509.0" cy="311.0" r="4.9"/><circle class="r" cx="512.0" cy="310.0" r="4.9"/><circle class="r" cx="512.0" cy="310.0" r="4.9"/><circle class="r" cx="508.0" cy="315.0" r="4.9"/><circle class="r" cx="508.3" cy="313.8" r="4.9"/><circle class="r" cx="504.0" cy="321.0" r="4.9"/><circle class="r" cx="504.0" cy="321.0" r="4.9"/><circle class="r" cx="472.0" cy="339.0" r="4.9"/><circle class="r" cx="472.0" cy="339.0" r="4.9"/><circle class="r" cx="497.0" cy="341.0" r="4.9"/><circle class="r" cx="508.0" cy="343.0" r="4.9"/><circle class="r" cx="508.0" cy="343.0" r="4.9"/><circle class="r" cx="508.0" cy="347.0" r="4.9"/><circle class="r" cx="492.0" cy="347.0" r="4.9"/><circle class="r" cx="492.9" cy="347.1" r="4.9"/><circle class="r" cx="497.0" cy="351.0" r="4.9"/><circle class="r" cx="497.1" cy="352.6" r="4.9"/><circle class="r" cx="488.0" cy="352.0" r="4.9"/><circle class="r" cx="489.5" cy="351.4" r="4.9"/><circle class="r" cx="493.0" cy="355.0" r="4.9"/><circle class="r" cx="492.2" cy="356.6" r="4.9"/><circle class="r" cx="492.6" cy="355.8" r="4.9"/><circle class="r" cx="500.0" cy="357.0" r="4.9"/><circle class="r" cx="501.2" cy="356.2" r="4.9"/><circle class="r" cx="476.0" cy="351.0" r="4.9"/><circle class="r" cx="476.0" cy="351.0" r="4.9"/><circle class="r" cx="481.0" cy="354.0" r="4.9"/><circle class="r" cx="480.0" cy="352.3" r="4.9"/><circle class="r" cx="471.0" cy="359.0" r="4.9"/><circle class="r" cx="471.0" cy="359.0" r="4.9"/><circle class="r" cx="477.0" cy="361.0" r="4.9"/><circle class="r" cx="477.8" cy="359.7" r="4.9"/><circle class="r" cx="484.0" cy="360.0" r="4.9"/><circle class="r" cx="484.7" cy="359.1" r="4.9"/><circle class="r" cx="483.8" cy="358.7" r="4.9"/><circle class="r" cx="489.0" cy="362.0" r="4.9"/><circle class="r" cx="488.7" cy="362.8" r="4.9"/><circle class="r" cx="495.0" cy="364.0" r="4.9"/><circle class="r" cx="494.6" cy="363.6" r="4.9"/><circle class="r" cx="480.0" cy="368.0" r="4.9"/><circle class="r" cx="480.6" cy="367.6" r="4.9"/><circle class="r" cx="486.0" cy="369.0" r="4.9"/><circle class="r" cx="486.0" cy="369.0" r="4.9"/><circle class="r" cx="502.0" cy="368.0" r="4.9"/><circle class="r" cx="502.0" cy="368.0" r="4.9"/><circle class="r" cx="498.0" cy="376.0" r="4.9"/><circle class="r" cx="487.0" cy="378.0" r="4.9"/><circle class="r" cx="487.0" cy="378.0" r="4.9"/><circle class="r" cx="473.0" cy="377.0" r="4.9"/><circle class="r" cx="473.0" cy="377.0" r="4.9"/><circle class="r" cx="478.0" cy="380.0" r="4.9"/><circle class="r" cx="478.6" cy="380.1" r="4.9"/><circle class="r" cx="471.0" cy="381.0" r="4.9"/><circle class="r" cx="470.5" cy="379.6" r="4.9"/><circle class="r" cx="480.0" cy="386.0" r="4.9"/><circle class="r" cx="480.0" cy="386.0" r="4.9"/><circle class="r" cx="466.0" cy="388.0" r="4.9"/><circle class="r" cx="466.0" cy="388.0" r="4.9"/><circle class="r" cx="478.0" cy="391.0" r="4.9"/><circle class="r" cx="478.0" cy="391.0" r="4.9"/><circle class="r" cx="453.0" cy="352.0" r="4.9"/><circle class="r" cx="453.0" cy="352.0" r="4.9"/><circle class="r" cx="450.0" cy="358.0" r="4.9"/><circle class="r" cx="450.0" cy="358.0" r="4.9"/><circle class="r" cx="456.0" cy="364.0" r="4.9"/><circle class="r" cx="456.7" cy="362.4" r="4.9"/><circle class="r" cx="449.0" cy="368.0" r="4.9"/><circle class="r" cx="449.5" cy="367.6" r="4.9"/><circle class="r" cx="454.0" cy="370.0" r="4.9"/><circle class="r" cx="455.3" cy="368.6" r="4.9"/><circle class="r" cx="448.0" cy="376.0" r="4.9"/><circle class="r" cx="448.6" cy="375.8" r="4.9"/><circle class="r" cx="452.0" cy="380.0" r="4.9"/><circle class="r" cx="452.0" cy="380.0" r="4.9"/><circle class="b" cx="448.0" cy="308.0" r="4.9"/><circle class="b" cx="448.4" cy="308.4" r="4.9"/><circle class="b" cx="453.0" cy="306.0" r="4.9"/><circle class="b" cx="445.0" cy="311.0" r="4.9"/><circle class="b" cx="505.0" cy="320.0" r="4.9"/><circle class="b" cx="478.0" cy="337.0" r="4.9"/><circle class="b" cx="505.0" cy="355.0" r="4.9"/><circle class="b" cx="501.0" cy="363.0" r="4.9"/><circle class="b" cx="501.0" cy="363.0" r="4.9"/><circle class="b" cx="504.0" cy="360.0" r="4.9"/><circle class="b" cx="504.0" cy="360.0" r="4.9"/><circle class="b" cx="533.0" cy="301.0" r="4.9"/><circle class="b" cx="534.3" cy="301.9" r="4.9"/><circle class="b" cx="536.0" cy="308.0" r="4.9"/><circle class="b" cx="536.0" cy="308.0" r="4.9"/><circle class="b" cx="543.0" cy="304.0" r="4.9"/><circle class="b" cx="542.5" cy="305.0" r="4.9"/><circle class="b" cx="549.0" cy="307.0" r="4.9"/><circle class="b" cx="549.0" cy="307.0" r="4.9"/><circle class="b" cx="555.0" cy="303.0" r="4.9"/><circle class="b" cx="555.0" cy="303.0" r="4.9"/><circle class="b" cx="561.0" cy="312.0" r="4.9"/><circle class="b" cx="561.0" cy="312.0" r="4.9"/><circle class="b" cx="565.0" cy="304.0" r="4.9"/><circle class="b" cx="564.8" cy="303.0" r="4.9"/><circle class="b" cx="572.0" cy="301.0" r="4.9"/><circle class="b" cx="571.2" cy="302.8" r="4.9"/><circle class="b" cx="545.0" cy="317.0" r="4.9"/><circle class="b" cx="547.0" cy="319.0" r="4.9"/><circle class="b" cx="582.0" cy="309.0" r="4.9"/><circle class="b" cx="559.0" cy="331.0" r="4.9"/><circle class="b" cx="559.0" cy="331.0" r="4.9"/><circle class="b" cx="561.0" cy="330.0" r="4.9"/><circle class="b" cx="561.0" cy="330.0" r="4.9"/><circle class="b" cx="593.0" cy="323.0" r="4.9"/><circle class="b" cx="593.0" cy="323.0" r="4.9"/><circle class="b" cx="600.0" cy="318.4" r="4.9"/><circle class="b" cx="598.0" cy="326.0" r="4.9"/><circle class="b" cx="598.0" cy="326.0" r="4.9"/><circle class="b" cx="605.0" cy="332.0" r="4.9"/><circle class="b" cx="615.0" cy="318.0" r="4.9"/><circle class="b" cx="621.0" cy="317.0" r="4.9"/><circle class="b" cx="621.4" cy="318.8" r="4.9"/><circle class="b" cx="626.0" cy="316.0" r="4.9"/><circle class="b" cx="627.5" cy="316.9" r="4.9"/><circle class="b" cx="630.0" cy="318.0" r="4.9"/><circle class="b" cx="630.0" cy="318.0" r="4.9"/><circle class="b" cx="624.0" cy="322.0" r="4.9"/><circle class="b" cx="624.8" cy="322.0" r="4.9"/><circle class="b" cx="619.0" cy="324.0" r="4.9"/><circle class="b" cx="619.2" cy="322.0" r="4.9"/><circle class="b" cx="617.0" cy="332.0" r="4.9"/><circle class="b" cx="618.2" cy="332.0" r="4.9"/><circle class="b" cx="621.0" cy="337.0" r="4.9"/><circle class="b" cx="632.0" cy="332.0" r="4.9"/><circle class="b" cx="625.0" cy="330.0" r="4.9"/><circle class="b" cx="625.5" cy="331.1" r="4.9"/><circle class="b" cx="581.0" cy="338.0" r="4.9"/><circle class="b" cx="581.0" cy="338.0" r="4.9"/><circle class="b" cx="585.0" cy="337.0" r="4.9"/><circle class="b" cx="595.0" cy="337.0" r="4.9"/><circle class="b" cx="595.0" cy="337.0" r="4.9"/><circle class="b" cx="592.0" cy="342.0" r="4.9"/><circle class="b" cx="583.0" cy="347.0" r="4.9"/><circle class="b" cx="583.0" cy="347.0" r="4.9"/><circle class="b" cx="623.0" cy="349.0" r="4.9"/><circle class="b" cx="623.0" cy="349.0" r="4.9"/><circle class="b" cx="629.0" cy="348.0" r="4.9"/><circle class="b" cx="635.0" cy="348.0" r="4.9"/><circle class="b" cx="634.3" cy="348.0" r="4.9"/><circle class="b" cx="640.0" cy="349.0" r="4.9"/><circle class="b" cx="639.6" cy="348.5" r="4.9"/><circle class="b" cx="643.0" cy="352.0" r="4.9"/><circle class="b" cx="643.4" cy="350.5" r="4.9"/><circle class="b" cx="643.0" cy="360.0" r="4.9"/><circle class="b" cx="597.0" cy="354.0" r="4.9"/><circle class="b" cx="591.0" cy="360.0" r="4.9"/><circle class="b" cx="591.0" cy="360.0" r="4.9"/><circle class="b" cx="594.0" cy="367.0" r="4.9"/><circle class="b" cx="594.0" cy="367.0" r="4.9"/><circle class="b" cx="599.0" cy="367.0" r="4.9"/><circle class="b" cx="599.0" cy="367.0" r="4.9"/><circle class="b" cx="613.0" cy="360.0" r="4.9"/><circle class="b" cx="619.0" cy="358.0" r="4.9"/><circle class="b" cx="619.0" cy="358.0" r="4.9"/><circle class="b" cx="621.0" cy="368.0" r="4.9"/><circle class="b" cx="630.0" cy="365.0" r="4.9"/><circle class="b" cx="630.0" cy="365.0" r="4.9"/><circle class="b" cx="606.0" cy="373.0" r="4.9"/><circle class="b" cx="606.0" cy="373.0" r="4.9"/><circle class="b" cx="613.0" cy="374.0" r="4.9"/><circle class="b" cx="613.0" cy="374.0" r="4.9"/><circle class="b" cx="633.0" cy="378.0" r="4.9"/><circle class="b" cx="642.0" cy="377.0" r="4.9"/><circle class="b" cx="640.9" cy="377.0" r="4.9"/><circle class="b" cx="516.0" cy="358.0" r="4.9"/><circle class="b" cx="525.0" cy="356.0" r="4.9"/><circle class="b" cx="525.0" cy="356.0" r="4.9"/><circle class="b" cx="530.0" cy="353.0" r="4.9"/><circle class="b" cx="535.0" cy="358.0" r="4.9"/><circle class="b" cx="539.0" cy="353.0" r="4.9"/><circle class="b" cx="546.0" cy="353.0" r="4.9"/><circle class="b" cx="548.0" cy="360.0" r="4.9"/><circle class="b" cx="547.0" cy="365.0" r="4.9"/><circle class="b" cx="547.0" cy="365.0" r="4.9"/><circle class="b" cx="527.0" cy="366.0" r="4.9"/><circle class="b" cx="527.0" cy="366.0" r="4.9"/><circle class="b" cx="513.0" cy="368.0" r="4.9"/><circle class="b" cx="513.0" cy="368.0" r="4.9"/><circle class="b" cx="512.0" cy="375.0" r="4.9"/><circle class="b" cx="517.0" cy="380.0" r="4.9"/><circle class="b" cx="516.2" cy="378.6" r="4.9"/><circle class="b" cx="516.0" cy="385.0" r="4.9"/><circle class="b" cx="516.0" cy="385.0" r="4.9"/><circle class="b" cx="521.0" cy="386.0" r="4.9"/><circle class="b" cx="519.5" cy="386.6" r="4.9"/><circle class="b" cx="525.0" cy="390.0" r="4.9"/><circle class="b" cx="524.4" cy="389.7" r="4.9"/><circle class="b" cx="532.0" cy="388.0" r="4.9"/><circle class="b" cx="530.2" cy="388.4" r="4.9"/><circle class="b" cx="535.0" cy="394.0" r="4.9"/><circle class="b" cx="535.0" cy="394.0" r="4.9"/><circle class="b" cx="528.0" cy="395.0" r="4.9"/><circle class="b" cx="528.3" cy="395.9" r="4.9"/><circle class="b" cx="502.0" cy="386.0" r="4.9"/><circle class="b" cx="499.0" cy="393.0" r="4.9"/><circle class="b" cx="489.0" cy="393.0" r="4.9"/><circle class="b" cx="489.0" cy="393.0" r="4.9"/><circle class="b" cx="494.0" cy="398.0" r="4.9"/><circle class="b" cx="494.5" cy="398.7" r="4.9"/><circle class="b" cx="480.0" cy="399.0" r="4.9"/><circle class="b" cx="480.0" cy="399.0" r="4.9"/><circle class="b" cx="477.0" cy="402.0" r="4.9"/><circle class="b" cx="476.3" cy="401.9" r="4.9"/><circle class="b" cx="482.0" cy="404.0" r="4.9"/><circle class="b" cx="481.6" cy="404.7" r="4.9"/><circle class="b" cx="477.0" cy="409.0" r="4.9"/><circle class="b" cx="487.0" cy="413.0" r="4.9"/><circle class="b" cx="495.0" cy="404.0" r="4.9"/><circle class="b" cx="495.0" cy="404.0" r="4.9"/><circle class="b" cx="500.0" cy="415.0" r="4.9"/><circle class="b" cx="505.0" cy="420.0" r="4.9"/><circle class="b" cx="505.0" cy="420.0" r="4.9"/><circle class="b" cx="514.0" cy="420.0" r="4.9"/><circle class="b" cx="514.0" cy="420.0" r="4.9"/><circle class="b" cx="498.0" cy="427.0" r="4.9"/><circle class="b" cx="493.0" cy="429.0" r="4.9"/><circle class="b" cx="506.0" cy="428.0" r="4.9"/><circle class="b" cx="510.0" cy="404.0" r="4.9"/><circle class="b" cx="510.0" cy="404.0" r="4.9"/><circle class="b" cx="516.0" cy="401.0" r="4.9"/><circle class="b" cx="516.0" cy="401.0" r="4.9"/><circle class="b" cx="520.0" cy="405.0" r="4.9"/><circle class="b" cx="518.0" cy="410.0" r="4.9"/><circle class="b" cx="518.0" cy="410.0" r="4.9"/><circle class="b" cx="523.0" cy="416.0" r="4.9"/><circle class="b" cx="523.0" cy="416.0" r="4.9"/><circle class="b" cx="529.0" cy="414.0" r="4.9"/><circle class="b" cx="529.0" cy="414.0" r="4.9"/><circle class="b" cx="533.0" cy="406.0" r="4.9"/><circle class="b" cx="533.0" cy="406.0" r="4.9"/><circle class="b" cx="538.0" cy="409.0" r="4.9"/><circle class="b" cx="536.6" cy="410.0" r="4.9"/><circle class="b" cx="542.0" cy="401.0" r="4.9"/><circle class="b" cx="550.0" cy="398.0" r="4.9"/><circle class="b" cx="548.6" cy="398.0" r="4.9"/><circle class="b" cx="545.0" cy="414.0" r="4.9"/><circle class="b" cx="543.0" cy="420.0" r="4.9"/><circle class="b" cx="543.9" cy="421.1" r="4.9"/><circle class="b" cx="547.0" cy="424.0" r="4.9"/><circle class="b" cx="545.7" cy="424.9" r="4.9"/><circle class="b" cx="541.0" cy="426.0" r="4.9"/><circle class="b" cx="553.0" cy="424.0" r="4.9"/><circle class="b" cx="553.0" cy="424.0" r="4.9"/><circle class="b" cx="559.0" cy="422.0" r="4.9"/><circle class="b" cx="554.0" cy="412.0" r="4.9"/><circle class="b" cx="551.0" cy="406.0" r="4.9"/><circle class="b" cx="550.3" cy="406.4" r="4.9"/><circle class="b" cx="461.0" cy="403.6" r="4.9"/><circle class="b" cx="553.0" cy="373.0" r="4.9"/><circle class="b" cx="558.0" cy="376.0" r="4.9"/><circle class="b" cx="558.2" cy="374.5" r="4.9"/><circle class="b" cx="563.0" cy="374.0" r="4.9"/><circle class="b" cx="563.9" cy="372.8" r="4.9"/><circle class="b" cx="565.0" cy="380.0" r="4.9"/><circle class="b" cx="564.3" cy="379.1" r="4.9"/><circle class="b" cx="570.0" cy="377.0" r="4.9"/><circle class="b" cx="569.4" cy="378.3" r="4.9"/><circle class="b" cx="576.0" cy="378.0" r="4.9"/><circle class="b" cx="576.0" cy="378.0" r="4.9"/><circle class="b" cx="585.0" cy="375.0" r="4.9"/><circle class="b" cx="585.0" cy="375.0" r="4.9"/><circle class="b" cx="577.0" cy="384.0" r="4.9"/><circle class="b" cx="567.0" cy="386.0" r="4.9"/><circle class="b" cx="566.7" cy="384.6" r="4.9"/><circle class="b" cx="560.0" cy="390.0" r="4.9"/><circle class="b" cx="560.0" cy="390.0" r="4.9"/><circle class="b" cx="563.0" cy="394.0" r="4.9"/><circle class="b" cx="562.0" cy="394.5" r="4.9"/><circle class="b" cx="562.2" cy="393.2" r="4.9"/><circle class="b" cx="571.0" cy="390.0" r="4.9"/><circle class="b" cx="570.1" cy="388.3" r="4.9"/><circle class="b" cx="569.0" cy="398.0" r="4.9"/><circle class="b" cx="569.6" cy="399.4" r="4.9"/><circle class="b" cx="576.0" cy="396.0" r="4.9"/><circle class="b" cx="576.2" cy="394.9" r="4.9"/><circle class="b" cx="565.0" cy="401.0" r="4.9"/><circle class="b" cx="563.0" cy="401.1" r="4.9"/><circle class="b" cx="557.0" cy="400.0" r="4.9"/><circle class="b" cx="558.3" cy="400.3" r="4.9"/><circle class="b" cx="583.0" cy="391.0" r="4.9"/><circle class="b" cx="583.0" cy="391.0" r="4.9"/><circle class="b" cx="589.0" cy="394.0" r="4.9"/><circle class="b" cx="589.4" cy="392.1" r="4.9"/><circle class="b" cx="594.0" cy="388.0" r="4.9"/><circle class="b" cx="593.4" cy="387.9" r="4.9"/><circle class="b" cx="597.0" cy="380.0" r="4.9"/><circle class="b" cx="603.0" cy="382.0" r="4.9"/><circle class="b" cx="601.5" cy="381.6" r="4.9"/><circle class="b" cx="608.0" cy="380.0" r="4.9"/><circle class="b" cx="606.5" cy="379.9" r="4.9"/><circle class="b" cx="609.0" cy="386.0" r="4.9"/><circle class="b" cx="609.6" cy="384.9" r="4.9"/><circle class="b" cx="603.0" cy="390.0" r="4.9"/><circle class="b" cx="601.4" cy="391.0" r="4.9"/><circle class="b" cx="598.0" cy="394.0" r="4.9"/><circle class="b" cx="598.4" cy="395.5" r="4.9"/><circle class="b" cx="593.0" cy="398.0" r="4.9"/><circle class="b" cx="591.7" cy="399.0" r="4.9"/><circle class="b" cx="601.0" cy="400.0" r="4.9"/><circle class="b" cx="602.4" cy="401.4" r="4.9"/><circle class="b" cx="607.0" cy="394.0" r="4.9"/><circle class="b" cx="606.6" cy="394.5" r="4.9"/><circle class="b" cx="604.0" cy="404.0" r="4.9"/><circle class="b" cx="603.8" cy="405.1" r="4.9"/><circle class="b" cx="599.0" cy="411.0" r="4.9"/><circle class="b" cx="599.0" cy="411.0" r="4.9"/><circle class="b" cx="611.0" cy="409.0" r="4.9"/><circle class="b" cx="611.0" cy="409.0" r="4.9"/><circle class="b" cx="613.0" cy="398.0" r="4.9"/><circle class="b" cx="613.0" cy="398.0" r="4.9"/><circle class="b" cx="617.0" cy="393.0" r="4.9"/><circle class="b" cx="616.7" cy="392.0" r="4.9"/><circle class="b" cx="620.0" cy="387.0" r="4.9"/><circle class="b" cx="620.0" cy="387.0" r="4.9"/><circle class="b" cx="625.0" cy="393.0" r="4.9"/><circle class="b" cx="625.3" cy="394.6" r="4.9"/><circle class="b" cx="624.0" cy="398.0" r="4.9"/><circle class="b" cx="583.0" cy="408.0" r="4.9"/><circle class="b" cx="596.0" cy="408.0" r="4.9"/><circle class="b" cx="596.0" cy="408.0" r="4.9"/><circle class="b" cx="571.4" cy="359.0" r="4.9"/><circle class="b" cx="647.0" cy="349.0" r="4.9"/><circle class="b" cx="646.4" cy="349.5" r="4.9"/><circle class="b" cx="645.0" cy="356.0" r="4.9"/><circle class="b" cx="646.1" cy="357.2" r="4.9"/><circle class="b" cx="647.0" cy="373.0" r="4.9"/><circle class="b" cx="648.0" cy="382.0" r="4.9"/><circle class="b" cx="645.0" cy="377.0" r="4.9"/><circle class="b" cx="643.7" cy="377.3" r="4.9"/><circle class="b" cx="700.0" cy="362.0" r="4.9"/><circle class="b" cx="700.0" cy="362.0" r="4.9"/><circle class="b" cx="705.0" cy="361.0" r="4.9"/><circle class="b" cx="706.0" cy="360.8" r="4.9"/><circle class="b" cx="710.0" cy="363.0" r="4.9"/><circle class="b" cx="708.9" cy="361.7" r="4.9"/><circle class="b" cx="703.0" cy="368.0" r="4.9"/><circle class="b" cx="703.5" cy="366.9" r="4.9"/><circle class="b" cx="709.0" cy="369.0" r="4.9"/><circle class="b" cx="708.6" cy="370.3" r="4.9"/><circle class="b" cx="706.0" cy="374.0" r="4.9"/><circle class="b" cx="707.2" cy="375.2" r="4.9"/><circle class="b" cx="711.0" cy="376.0" r="4.9"/><circle class="b" cx="709.9" cy="377.4" r="4.9"/><circle class="b" cx="710.9" cy="377.1" r="4.9"/><circle class="b" cx="717.0" cy="377.0" r="4.9"/><circle class="b" cx="717.0" cy="378.1" r="4.9"/><circle class="b" cx="722.0" cy="379.0" r="4.9"/><circle class="b" cx="722.2" cy="379.5" r="4.9"/><circle class="b" cx="721.8" cy="378.1" r="4.9"/><circle class="b" cx="727.0" cy="377.0" r="4.9"/><circle class="b" cx="727.0" cy="377.0" r="4.9"/><circle class="b" cx="726.0" cy="386.0" r="4.9"/><circle class="b" cx="725.6" cy="387.2" r="4.9"/><circle class="b" cx="720.0" cy="385.0" r="4.9"/><circle class="b" cx="718.7" cy="385.6" r="4.9"/><circle class="b" cx="719.4" cy="384.1" r="4.9"/><circle class="b" cx="714.0" cy="383.0" r="4.9"/><circle class="b" cx="715.6" cy="382.2" r="4.9"/><circle class="b" cx="715.6" cy="383.6" r="4.9"/><circle class="b" cx="708.0" cy="382.0" r="4.9"/><circle class="b" cx="709.4" cy="381.1" r="4.9"/><circle class="b" cx="709.1" cy="383.3" r="4.9"/><circle class="b" cx="719.0" cy="391.0" r="4.9"/><circle class="b" cx="718.6" cy="390.6" r="4.9"/><circle class="b" cx="708.0" cy="392.0" r="4.9"/><circle class="b" cx="708.0" cy="392.0" r="4.9"/><circle class="b" cx="699.0" cy="380.6" r="4.9"/><circle class="b" cx="689.0" cy="378.6" r="4.9"/><circle class="b" cx="709.0" cy="398.0" r="4.9"/><circle class="b" cx="709.0" cy="398.7" r="4.9"/><circle class="b" cx="708.0" cy="403.0" r="4.9"/><circle class="b" cx="708.5" cy="403.7" r="4.9"/><circle class="b" cx="713.0" cy="406.0" r="4.9"/><circle class="b" cx="713.2" cy="405.0" r="4.9"/><circle class="b" cx="694.6" cy="400.0" r="4.9"/><circle class="b" cx="694.6" cy="400.0" r="4.9"/><circle class="b" cx="696.0" cy="409.0" r="4.9"/><circle class="b" cx="698.6" cy="415.6" r="4.9"/><circle class="b" cx="687.0" cy="416.0" r="4.9"/><circle class="b" cx="687.0" cy="416.0" r="4.9"/><circle class="b" cx="692.4" cy="419.6" r="4.9"/><circle class="b" cx="707.0" cy="410.0" r="4.9"/><circle class="b" cx="705.7" cy="408.9" r="4.9"/><circle class="b" cx="713.0" cy="413.0" r="4.9"/><circle class="b" cx="712.1" cy="411.4" r="4.9"/><circle class="b" cx="718.0" cy="411.0" r="4.9"/><circle class="b" cx="718.4" cy="409.3" r="4.9"/><circle class="b" cx="712.0" cy="420.0" r="4.9"/><circle class="b" cx="712.0" cy="420.0" r="4.9"/><circle class="b" cx="720.0" cy="419.0" r="4.9"/><circle class="b" cx="725.0" cy="398.0" r="4.9"/><circle class="b" cx="729.0" cy="399.6" r="4.9"/><circle class="b" cx="724.0" cy="402.0" r="4.9"/><circle class="b" cx="724.0" cy="402.0" r="4.9"/><circle class="b" cx="716.0" cy="380.0" r="4.9"/><circle class="b" cx="717.0" cy="379.1" r="4.9"/><circle class="b" cx="715.9" cy="380.8" r="4.9"/><circle class="b" cx="705.0" cy="380.0" r="4.9"/><circle class="b" cx="705.8" cy="381.0" r="4.9"/><circle class="b" cx="711.0" cy="388.0" r="4.9"/><circle class="b" cx="712.1" cy="388.4" r="4.9"/><circle class="b" cx="204.4" cy="496.6" r="4.9"/><circle class="b" cx="204.4" cy="496.6" r="4.9"/><circle class="b" cx="204.0" cy="503.0" r="4.9"/><circle class="b" cx="233.6" cy="483.6" r="4.9"/><circle class="b" cx="242.0" cy="483.0" r="4.9"/><circle class="b" cx="240.3" cy="482.6" r="4.9"/><circle class="b" cx="242.0" cy="490.0" r="4.9"/><circle class="b" cx="243.8" cy="490.1" r="4.9"/><circle class="b" cx="236.0" cy="492.0" r="4.9"/><circle class="b" cx="234.7" cy="492.3" r="4.9"/><circle class="b" cx="237.0" cy="500.0" r="4.9"/><circle class="b" cx="236.1" cy="498.5" r="4.9"/><circle class="b" cx="240.0" cy="505.0" r="4.9"/><circle class="b" cx="240.0" cy="505.0" r="4.9"/><circle class="b" cx="243.0" cy="507.0" r="4.9"/><circle class="b" cx="243.0" cy="507.0" r="4.9"/><circle class="b" cx="222.0" cy="496.0" r="4.9"/><circle class="b" cx="222.6" cy="495.8" r="4.9"/><circle class="b" cx="218.0" cy="500.0" r="4.9"/><circle class="b" cx="217.1" cy="498.9" r="4.9"/><circle class="b" cx="226.0" cy="500.0" r="4.9"/><circle class="b" cx="227.4" cy="500.3" r="4.9"/><circle class="b" cx="214.0" cy="505.0" r="4.9"/><circle class="b" cx="213.2" cy="503.3" r="4.9"/><circle class="b" cx="221.0" cy="505.0" r="4.9"/><circle class="b" cx="220.0" cy="506.7" r="4.9"/><circle class="b" cx="219.8" cy="504.9" r="4.9"/><circle class="b" cx="228.0" cy="505.0" r="4.9"/><circle class="b" cx="228.4" cy="504.7" r="4.9"/><circle class="b" cx="213.0" cy="510.0" r="4.9"/><circle class="b" cx="212.7" cy="508.6" r="4.9"/><circle class="b" cx="219.0" cy="510.0" r="4.9"/><circle class="b" cx="218.1" cy="511.5" r="4.9"/><circle class="b" cx="218.2" cy="510.9" r="4.9"/><circle class="b" cx="225.0" cy="510.0" r="4.9"/><circle class="b" cx="223.4" cy="509.7" r="4.9"/><circle class="b" cx="225.3" cy="511.1" r="4.9"/><circle class="b" cx="231.0" cy="509.0" r="4.9"/><circle class="b" cx="229.8" cy="509.6" r="4.9"/><circle class="b" cx="215.0" cy="516.0" r="4.9"/><circle class="b" cx="215.4" cy="515.2" r="4.9"/><circle class="b" cx="221.0" cy="516.0" r="4.9"/><circle class="b" cx="221.5" cy="515.0" r="4.9"/><circle class="b" cx="220.1" cy="516.0" r="4.9"/><circle class="b" cx="227.0" cy="515.0" r="4.9"/><circle class="b" cx="225.0" cy="514.9" r="4.9"/><circle class="b" cx="226.0" cy="513.6" r="4.9"/><circle class="b" cx="224.6" cy="520.0" r="4.9"/><circle class="b" cx="224.1" cy="520.9" r="4.9"/><circle class="b" cx="235.0" cy="518.0" r="4.9"/><circle class="b" cx="235.0" cy="518.0" r="4.9"/><circle class="b" cx="230.0" cy="496.0" r="4.9"/><circle class="b" cx="228.8" cy="495.2" r="4.9"/><circle class="b" cx="219.0" cy="513.0" r="4.9"/><circle class="b" cx="219.1" cy="512.5" r="4.9"/><circle class="b" cx="218.7" cy="511.2" r="4.9"/><circle class="r" cx="278.0" cy="440.0" r="4.9"/><circle class="r" cx="278.0" cy="440.0" r="4.9"/><circle class="r" cx="282.0" cy="441.0" r="4.9"/><circle class="r" cx="282.0" cy="441.0" r="4.9"/><circle class="r" cx="292.0" cy="436.0" r="4.9"/><circle class="r" cx="292.0" cy="436.0" r="4.9"/><circle class="r" cx="298.0" cy="433.0" r="4.9"/><circle class="r" cx="298.0" cy="433.0" r="4.9"/><circle class="r" cx="305.0" cy="432.0" r="4.9"/><circle class="r" cx="305.7" cy="433.7" r="4.9"/><circle class="r" cx="312.0" cy="431.0" r="4.9"/><circle class="r" cx="310.8" cy="430.1" r="4.9"/><circle class="r" cx="321.0" cy="432.0" r="4.9"/><circle class="r" cx="293.0" cy="441.0" r="4.9"/><circle class="r" cx="308.0" cy="441.0" r="4.9"/><circle class="r" cx="308.0" cy="441.0" r="4.9"/><circle class="r" cx="316.0" cy="440.0" r="4.9"/><circle class="r" cx="314.9" cy="439.0" r="4.9"/><circle class="r" cx="322.0" cy="442.0" r="4.9"/><circle class="r" cx="321.5" cy="440.7" r="4.9"/><circle class="r" cx="327.0" cy="441.0" r="4.9"/><circle class="r" cx="327.0" cy="441.0" r="4.9"/><circle class="r" cx="331.0" cy="446.0" r="4.9"/><circle class="r" cx="331.0" cy="446.0" r="4.9"/><circle class="r" cx="320.0" cy="447.0" r="4.9"/><circle class="r" cx="320.0" cy="447.0" r="4.9"/><circle class="r" cx="290.0" cy="450.0" r="4.9"/><circle class="r" cx="290.0" cy="450.0" r="4.9"/><circle class="r" cx="347.0" cy="451.0" r="4.9"/><circle class="b" cx="279.0" cy="451.0" r="4.9"/><circle class="b" cx="279.0" cy="451.0" r="4.9"/><circle class="b" cx="293.0" cy="447.0" r="4.9"/><circle class="b" cx="293.0" cy="447.0" r="4.9"/><circle class="b" cx="299.0" cy="449.0" r="4.9"/><circle class="b" cx="299.0" cy="449.0" r="4.9"/><circle class="b" cx="288.0" cy="456.0" r="4.9"/><circle class="b" cx="290.0" cy="461.0" r="4.9"/><circle class="b" cx="298.0" cy="459.0" r="4.9"/><circle class="b" cx="314.0" cy="451.0" r="4.9"/><circle class="b" cx="314.0" cy="451.0" r="4.9"/><circle class="b" cx="315.0" cy="459.0" r="4.9"/><circle class="b" cx="322.0" cy="456.0" r="4.9"/><circle class="b" cx="322.3" cy="454.7" r="4.9"/><circle class="b" cx="327.0" cy="459.0" r="4.9"/><circle class="b" cx="327.0" cy="460.0" r="4.9"/><circle class="b" cx="332.0" cy="460.0" r="4.9"/><circle class="b" cx="332.0" cy="460.0" r="4.9"/><circle class="b" cx="325.0" cy="454.0" r="4.9"/><circle class="b" cx="325.0" cy="454.0" r="4.9"/><circle class="b" cx="343.0" cy="450.6" r="4.9"/><circle class="b" cx="343.0" cy="450.6" r="4.9"/><circle class="b" cx="349.0" cy="452.0" r="4.9"/><circle class="b" cx="347.0" cy="431.0" r="4.9"/><circle class="b" cx="298.0" cy="470.0" r="4.9"/><circle class="b" cx="298.0" cy="470.0" r="4.9"/><circle class="b" cx="302.0" cy="469.0" r="4.9"/><circle class="b" cx="305.0" cy="477.0" r="4.9"/><circle class="b" cx="305.7" cy="477.2" r="4.9"/><circle class="b" cx="311.0" cy="481.0" r="4.9"/><circle class="b" cx="304.0" cy="483.0" r="4.9"/><circle class="b" cx="302.3" cy="482.1" r="4.9"/><circle class="b" cx="300.6" cy="490.4" r="4.9"/><circle class="b" cx="300.6" cy="490.4" r="4.9"/><circle class="b" cx="285.0" cy="489.0" r="4.9"/><circle class="b" cx="285.0" cy="489.0" r="4.9"/><circle class="b" cx="245.0" cy="483.0" r="4.9"/><circle class="b" cx="243.9" cy="483.9" r="4.9"/><circle class="b" cx="247.0" cy="490.0" r="4.9"/><circle class="b" cx="248.8" cy="489.2" r="4.9"/><circle class="b" cx="263.4" cy="496.0" r="4.9"/><circle class="b" cx="266.0" cy="500.4" r="4.9"/><circle class="b" cx="266.0" cy="500.4" r="4.9"/><circle class="b" cx="257.4" cy="515.6" r="4.9"/><circle class="b" cx="257.4" cy="515.6" r="4.9"/><circle class="b" cx="260.0" cy="519.6" r="4.9"/><circle class="b" cx="259.5" cy="519.0" r="4.9"/><circle class="b" cx="253.0" cy="525.0" r="4.9"/><circle class="b" cx="253.3" cy="525.4" r="4.9"/><circle class="b" cx="256.6" cy="531.0" r="4.9"/><circle class="b" cx="256.6" cy="531.0" r="4.9"/><circle class="b" cx="259.0" cy="525.6" r="4.9"/><circle class="b" cx="258.7" cy="525.0" r="4.9"/><circle class="b" cx="267.0" cy="528.0" r="4.9"/><circle class="b" cx="272.0" cy="530.0" r="4.9"/><circle class="b" cx="272.0" cy="530.0" r="4.9"/><circle class="b" cx="351.0" cy="475.0" r="4.9"/><circle class="b" cx="349.0" cy="480.0" r="4.9"/><circle class="b" cx="349.0" cy="480.0" r="4.9"/><circle class="b" cx="345.0" cy="485.0" r="4.9"/><circle class="b" cx="345.0" cy="485.0" r="4.9"/><circle class="b" cx="354.0" cy="489.0" r="4.9"/><circle class="b" cx="340.0" cy="492.0" r="4.9"/><circle class="b" cx="340.0" cy="492.0" r="4.9"/><circle class="b" cx="341.0" cy="497.0" r="4.9"/><circle class="b" cx="344.0" cy="502.0" r="4.9"/><circle class="b" cx="344.0" cy="502.0" r="4.9"/><circle class="b" cx="347.0" cy="506.0" r="4.9"/><circle class="b" cx="347.0" cy="506.0" r="4.9"/><circle class="b" cx="347.0" cy="511.0" r="4.9"/><circle class="b" cx="329.0" cy="495.0" r="4.9"/><circle class="b" cx="327.0" cy="499.0" r="4.9"/><circle class="b" cx="331.4" cy="501.0" r="4.9"/><circle class="b" cx="358.0" cy="499.0" r="4.9"/><circle class="b" cx="358.0" cy="499.0" r="4.9"/><circle class="b" cx="365.6" cy="499.0" r="4.9"/><circle class="b" cx="406.0" cy="470.0" r="4.9"/><circle class="b" cx="342.0" cy="534.4" r="4.9"/><circle class="b" cx="347.0" cy="531.0" r="4.9"/><circle class="b" cx="354.0" cy="532.0" r="4.9"/><circle class="b" cx="354.0" cy="532.0" r="4.9"/><circle class="b" cx="356.0" cy="528.4" r="4.9"/><circle class="b" cx="368.6" cy="525.0" r="4.9"/><circle class="b" cx="376.0" cy="523.0" r="4.9"/><circle class="b" cx="376.0" cy="523.0" r="4.9"/><circle class="b" cx="386.0" cy="525.0" r="4.9"/><circle class="b" cx="386.0" cy="525.0" r="4.9"/><circle class="b" cx="372.0" cy="529.0" r="4.9"/><circle class="b" cx="371.0" cy="527.6" r="4.9"/><circle class="b" cx="377.0" cy="533.6" r="4.9"/><circle class="b" cx="377.0" cy="533.6" r="4.9"/><circle class="b" cx="428.6" cy="517.4" r="4.9"/><circle class="b" cx="428.6" cy="517.4" r="4.9"/><circle class="b" cx="438.6" cy="513.4" r="4.9"/><circle class="b" cx="444.0" cy="518.0" r="4.9"/><circle class="b" cx="444.0" cy="518.0" r="4.9"/><circle class="b" cx="443.0" cy="508.0" r="4.9"/><circle class="b" cx="388.0" cy="538.0" r="4.9"/><circle class="b" cx="398.0" cy="538.0" r="4.9"/><circle class="b" cx="398.0" cy="538.0" r="4.9"/><circle class="b" cx="384.0" cy="542.0" r="4.9"/><circle class="b" cx="383.1" cy="543.0" r="4.9"/><circle class="b" cx="375.0" cy="544.0" r="4.9"/><circle class="b" cx="375.0" cy="544.0" r="4.9"/><circle class="b" cx="371.0" cy="550.0" r="4.9"/><circle class="b" cx="370.7" cy="549.4" r="4.9"/><circle class="b" cx="376.0" cy="551.0" r="4.9"/><circle class="b" cx="376.3" cy="550.0" r="4.9"/><circle class="b" cx="385.0" cy="549.0" r="4.9"/><circle class="b" cx="384.1" cy="547.9" r="4.9"/><circle class="b" cx="389.0" cy="545.0" r="4.9"/><circle class="b" cx="388.1" cy="545.5" r="4.9"/><circle class="b" cx="398.0" cy="546.0" r="4.9"/><circle class="b" cx="405.0" cy="550.0" r="4.9"/><circle class="b" cx="393.0" cy="555.0" r="4.9"/><circle class="b" cx="383.0" cy="556.0" r="4.9"/><circle class="b" cx="373.0" cy="557.0" r="4.9"/><circle class="b" cx="372.8" cy="557.6" r="4.9"/><circle class="b" cx="401.0" cy="557.0" r="4.9"/><circle class="b" cx="415.0" cy="546.0" r="4.9"/><circle class="b" cx="421.0" cy="543.0" r="4.9"/><circle class="b" cx="421.5" cy="542.1" r="4.9"/><circle class="b" cx="419.0" cy="550.0" r="4.9"/><circle class="b" cx="417.5" cy="548.8" r="4.9"/><circle class="b" cx="425.0" cy="550.0" r="4.9"/><circle class="b" cx="425.7" cy="548.8" r="4.9"/><circle class="b" cx="435.0" cy="548.0" r="4.9"/><circle class="b" cx="435.0" cy="548.0" r="4.9"/><circle class="b" cx="428.0" cy="556.0" r="4.9"/><circle class="b" cx="428.0" cy="556.0" r="4.9"/><circle class="b" cx="416.0" cy="556.0" r="4.9"/><circle class="b" cx="410.0" cy="558.0" r="4.9"/><circle class="b" cx="410.0" cy="558.0" r="4.9"/><circle class="b" cx="470.0" cy="461.0" r="4.9"/><circle class="b" cx="474.0" cy="465.0" r="4.9"/><circle class="b" cx="502.0" cy="451.0" r="4.9"/><circle class="b" cx="496.0" cy="455.6" r="4.9"/><circle class="b" cx="506.0" cy="455.0" r="4.9"/><circle class="b" cx="506.0" cy="455.0" r="4.9"/><circle class="b" cx="509.0" cy="460.0" r="4.9"/><circle class="b" cx="509.0" cy="460.0" r="4.9"/><circle class="b" cx="490.6" cy="463.0" r="4.9"/><circle class="b" cx="490.6" cy="463.0" r="4.9"/><circle class="b" cx="505.0" cy="468.0" r="4.9"/><circle class="b" cx="505.0" cy="468.0" r="4.9"/><circle class="b" cx="490.6" cy="471.6" r="4.9"/><circle class="b" cx="504.0" cy="473.0" r="4.9"/><circle class="b" cx="497.4" cy="476.0" r="4.9"/><circle class="b" cx="497.8" cy="475.6" r="4.9"/><circle class="b" cx="498.6" cy="482.0" r="4.9"/><circle class="b" cx="494.0" cy="491.6" r="4.9"/><circle class="b" cx="478.6" cy="500.4" r="4.9"/><circle class="b" cx="464.0" cy="503.6" r="4.9"/><circle class="b" cx="478.0" cy="506.0" r="4.9"/><circle class="b" cx="477.7" cy="507.8" r="4.9"/><circle class="b" cx="448.0" cy="508.0" r="4.9"/><circle class="b" cx="458.0" cy="510.0" r="4.9"/><circle class="b" cx="469.0" cy="509.0" r="4.9"/><circle class="b" cx="469.9" cy="508.5" r="4.9"/><circle class="b" cx="475.0" cy="512.0" r="4.9"/><circle class="b" cx="476.1" cy="512.7" r="4.9"/><circle class="b" cx="482.0" cy="512.0" r="4.9"/><circle class="b" cx="482.2" cy="511.2" r="4.9"/><circle class="b" cx="487.0" cy="514.0" r="4.9"/><circle class="b" cx="465.0" cy="516.0" r="4.9"/><circle class="b" cx="465.8" cy="515.6" r="4.9"/><circle class="b" cx="472.0" cy="517.0" r="4.9"/><circle class="b" cx="470.8" cy="516.1" r="4.9"/><circle class="b" cx="479.0" cy="519.0" r="4.9"/><circle class="b" cx="478.2" cy="519.2" r="4.9"/><circle class="b" cx="451.0" cy="520.0" r="4.9"/><circle class="b" cx="451.0" cy="520.0" r="4.9"/><circle class="b" cx="463.0" cy="523.0" r="4.9"/><circle class="b" cx="470.0" cy="524.0" r="4.9"/><circle class="b" cx="470.3" cy="522.9" r="4.9"/><circle class="b" cx="477.0" cy="525.0" r="4.9"/><circle class="b" cx="478.5" cy="525.9" r="4.9"/><circle class="b" cx="484.0" cy="523.0" r="4.9"/><circle class="b" cx="456.0" cy="529.0" r="4.9"/><circle class="b" cx="456.0" cy="529.0" r="4.9"/><circle class="b" cx="462.0" cy="532.0" r="4.9"/><circle class="b" cx="469.0" cy="531.0" r="4.9"/><circle class="b" cx="470.5" cy="529.9" r="4.9"/><circle class="b" cx="475.0" cy="533.0" r="4.9"/><circle class="b" cx="473.8" cy="532.8" r="4.9"/><circle class="b" cx="449.0" cy="534.0" r="4.9"/><circle class="b" cx="454.0" cy="540.4" r="4.9"/><circle class="b" cx="454.0" cy="540.4" r="4.9"/><circle class="b" cx="478.0" cy="538.4" r="4.9"/><circle class="b" cx="478.0" cy="538.4" r="4.9"/><circle class="b" cx="473.0" cy="536.0" r="4.9"/><circle class="b" cx="473.7" cy="537.4" r="4.9"/><circle class="b" cx="448.0" cy="549.0" r="4.9"/><circle class="b" cx="448.0" cy="549.0" r="4.9"/><circle class="b" cx="457.0" cy="552.0" r="4.9"/><circle class="b" cx="449.0" cy="554.0" r="4.9"/><circle class="b" cx="449.0" cy="554.0" r="4.9"/><circle class="b" cx="462.0" cy="559.0" r="4.9"/><circle class="b" cx="461.3" cy="558.9" r="4.9"/><circle class="b" cx="584.0" cy="521.6" r="4.9"/><circle class="b" cx="584.0" cy="521.6" r="4.9"/><circle class="b" cx="589.0" cy="521.6" r="4.9"/><circle class="b" cx="594.0" cy="531.0" r="4.9"/><circle class="b" cx="594.0" cy="531.0" r="4.9"/><circle class="b" cx="599.0" cy="524.0" r="4.9"/><circle class="b" cx="600.1" cy="524.9" r="4.9"/><circle class="b" cx="606.0" cy="516.0" r="4.9"/><circle class="b" cx="604.0" cy="522.0" r="4.9"/><circle class="b" cx="604.8" cy="523.2" r="4.9"/><circle class="b" cx="610.0" cy="520.0" r="4.9"/><circle class="b" cx="609.3" cy="521.1" r="4.9"/><circle class="b" cx="615.0" cy="521.0" r="4.9"/><circle class="b" cx="615.0" cy="521.0" r="4.9"/><circle class="b" cx="616.0" cy="527.0" r="4.9"/><circle class="b" cx="616.0" cy="527.0" r="4.9"/><circle class="b" cx="610.0" cy="529.0" r="4.9"/><circle class="b" cx="605.0" cy="527.0" r="4.9"/><circle class="b" cx="605.8" cy="526.1" r="4.9"/><circle class="b" cx="643.0" cy="475.0" r="4.9"/><circle class="b" cx="642.2" cy="474.6" r="4.9"/><circle class="b" cx="641.0" cy="485.0" r="4.9"/><circle class="b" cx="641.2" cy="483.9" r="4.9"/><circle class="b" cx="635.0" cy="493.0" r="4.9"/><circle class="b" cx="642.0" cy="492.0" r="4.9"/><circle class="b" cx="642.2" cy="490.3" r="4.9"/><circle class="b" cx="633.0" cy="500.0" r="4.9"/><circle class="b" cx="633.9" cy="499.8" r="4.9"/><circle class="b" cx="638.0" cy="502.0" r="4.9"/><circle class="b" cx="638.8" cy="502.2" r="4.9"/><circle class="b" cx="627.0" cy="505.6" r="4.9"/><circle class="b" cx="627.0" cy="505.6" r="4.9"/><circle class="b" cx="630.0" cy="503.0" r="4.9"/><circle class="b" cx="630.5" cy="503.3" r="4.9"/><circle class="b" cx="657.0" cy="442.0" r="4.9"/><circle class="b" cx="675.6" cy="446.0" r="4.9"/><circle class="b" cx="662.6" cy="463.0" r="4.9"/><circle class="b" cx="660.7" cy="463.5" r="4.9"/><circle class="b" cx="668.0" cy="463.0" r="4.9"/><circle class="b" cx="668.5" cy="462.7" r="4.9"/><circle class="b" cx="671.0" cy="464.0" r="4.9"/><circle class="b" cx="670.1" cy="463.4" r="4.9"/><circle class="b" cx="665.0" cy="470.0" r="4.9"/><circle class="b" cx="666.4" cy="471.3" r="4.9"/><circle class="b" cx="660.0" cy="473.0" r="4.9"/><circle class="b" cx="659.9" cy="474.3" r="4.9"/><circle class="b" cx="653.0" cy="471.0" r="4.9"/><circle class="b" cx="651.8" cy="469.5" r="4.9"/><circle class="b" cx="648.0" cy="473.0" r="4.9"/><circle class="b" cx="647.5" cy="472.0" r="4.9"/><circle class="b" cx="665.0" cy="478.0" r="4.9"/><circle class="b" cx="664.3" cy="478.2" r="4.9"/><circle class="b" cx="670.6" cy="478.4" r="4.9"/><circle class="b" cx="657.0" cy="477.0" r="4.9"/><circle class="b" cx="657.8" cy="477.0" r="4.9"/><circle class="b" cx="651.0" cy="479.0" r="4.9"/><circle class="b" cx="651.9" cy="479.2" r="4.9"/><circle class="b" cx="647.0" cy="483.0" r="4.9"/><circle class="b" cx="645.9" cy="484.5" r="4.9"/><circle class="b" cx="651.0" cy="488.0" r="4.9"/><circle class="b" cx="652.4" cy="487.0" r="4.9"/><circle class="b" cx="646.0" cy="492.0" r="4.9"/><circle class="b" cx="647.6" cy="492.5" r="4.9"/><circle class="b" cx="650.0" cy="496.0" r="4.9"/><circle class="b" cx="649.6" cy="494.6" r="4.9"/><circle class="b" cx="645.0" cy="498.0" r="4.9"/><circle class="b" cx="645.6" cy="497.9" r="4.9"/><circle class="b" cx="368.0" cy="561.0" r="4.9"/><circle class="b" cx="368.0" cy="561.0" r="4.9"/><circle class="b" cx="373.0" cy="565.0" r="4.9"/><circle class="b" cx="373.1" cy="563.1" r="4.9"/><circle class="b" cx="362.0" cy="569.6" r="4.9"/><circle class="b" cx="369.0" cy="572.0" r="4.9"/><circle class="b" cx="368.6" cy="573.3" r="4.9"/><circle class="b" cx="376.0" cy="570.0" r="4.9"/><circle class="b" cx="376.0" cy="569.3" r="4.9"/><circle class="b" cx="383.0" cy="567.0" r="4.9"/><circle class="b" cx="382.6" cy="567.8" r="4.9"/><circle class="b" cx="389.0" cy="566.0" r="4.9"/><circle class="b" cx="389.9" cy="566.9" r="4.9"/><circle class="b" cx="394.0" cy="570.0" r="4.9"/><circle class="b" cx="394.4" cy="570.7" r="4.9"/><circle class="b" cx="385.0" cy="574.0" r="4.9"/><circle class="b" cx="385.9" cy="575.2" r="4.9"/><circle class="b" cx="391.0" cy="577.0" r="4.9"/><circle class="b" cx="392.6" cy="577.1" r="4.9"/><circle class="b" cx="377.0" cy="578.0" r="4.9"/><circle class="b" cx="377.2" cy="578.5" r="4.9"/><circle class="b" cx="371.0" cy="579.0" r="4.9"/><circle class="b" cx="371.7" cy="578.6" r="4.9"/><circle class="b" cx="366.4" cy="581.6" r="4.9"/><circle class="b" cx="377.0" cy="582.0" r="4.9"/><circle class="b" cx="378.2" cy="580.6" r="4.9"/><circle class="b" cx="385.0" cy="582.0" r="4.9"/><circle class="b" cx="385.7" cy="582.9" r="4.9"/><circle class="b" cx="394.0" cy="582.0" r="4.9"/><circle class="b" cx="395.6" cy="583.1" r="4.9"/><circle class="b" cx="399.0" cy="576.0" r="4.9"/><circle class="b" cx="399.8" cy="574.8" r="4.9"/><circle class="b" cx="405.0" cy="577.0" r="4.9"/><circle class="b" cx="409.0" cy="579.0" r="4.9"/><circle class="b" cx="409.0" cy="579.0" r="4.9"/><circle class="b" cx="397.0" cy="589.0" r="4.9"/><circle class="b" cx="397.5" cy="587.9" r="4.9"/><circle class="b" cx="403.0" cy="592.0" r="4.9"/><circle class="b" cx="402.5" cy="591.5" r="4.9"/><circle class="b" cx="390.6" cy="598.4" r="4.9"/><circle class="b" cx="390.6" cy="598.4" r="4.9"/><circle class="b" cx="398.0" cy="597.0" r="4.9"/><circle class="b" cx="399.5" cy="597.5" r="4.9"/><circle class="b" cx="406.0" cy="596.0" r="4.9"/><circle class="b" cx="405.3" cy="595.8" r="4.9"/><circle class="b" cx="413.0" cy="597.0" r="4.9"/><circle class="b" cx="416.0" cy="591.0" r="4.9"/><circle class="b" cx="415.9" cy="592.1" r="4.9"/><circle class="b" cx="411.0" cy="586.0" r="4.9"/><circle class="b" cx="411.5" cy="586.8" r="4.9"/><circle class="b" cx="419.0" cy="584.0" r="4.9"/><circle class="b" cx="419.5" cy="583.2" r="4.9"/><circle class="b" cx="423.0" cy="579.0" r="4.9"/><circle class="b" cx="423.0" cy="579.0" r="4.9"/><circle class="b" cx="426.0" cy="572.0" r="4.9"/><circle class="b" cx="425.0" cy="572.1" r="4.9"/><circle class="b" cx="431.0" cy="569.0" r="4.9"/><circle class="b" cx="434.0" cy="576.0" r="4.9"/><circle class="b" cx="435.5" cy="577.3" r="4.9"/><circle class="b" cx="437.0" cy="584.0" r="4.9"/><circle class="b" cx="437.0" cy="584.0" r="4.9"/><circle class="b" cx="425.4" cy="593.6" r="4.9"/><circle class="b" cx="421.0" cy="565.0" r="4.9"/><circle class="b" cx="429.0" cy="558.0" r="4.9"/><circle class="b" cx="429.0" cy="558.0" r="4.9"/><circle class="b" cx="413.0" cy="567.0" r="4.9"/><circle class="b" cx="419.0" cy="588.0" r="4.9"/><circle class="b" cx="418.8" cy="588.9" r="4.9"/><circle class="b" cx="462.0" cy="560.0" r="4.9"/><circle class="b" cx="462.3" cy="561.0" r="4.9"/><circle class="b" cx="456.0" cy="564.0" r="4.9"/><circle class="b" cx="458.0" cy="563.9" r="4.9"/><circle class="b" cx="459.0" cy="567.0" r="4.9"/><circle class="b" cx="459.6" cy="566.7" r="4.9"/><circle class="b" cx="457.4" cy="571.6" r="4.9"/><circle class="b" cx="457.4" cy="571.6" r="4.9"/><circle class="b" cx="424.0" cy="472.0" r="4.9"/><circle class="b" cx="426.5" cy="470.0" r="4.9"/><circle class="b" cx="428.0" cy="470.6" r="4.9"/><circle class="b" cx="429.0" cy="468.0" r="4.9"/><circle class="b" cx="428.5" cy="469.9" r="4.9"/><circle class="b" cx="431.5" cy="466.0" r="4.9"/><circle class="b" cx="433.2" cy="466.2" r="4.9"/><circle class="b" cx="434.0" cy="464.0" r="4.9"/><circle class="b" cx="433.6" cy="464.6" r="4.9"/><circle class="b" cx="436.5" cy="462.0" r="4.9"/><circle class="b" cx="438.2" cy="462.0" r="4.9"/><circle class="b" cx="439.0" cy="460.0" r="4.9"/><circle class="b" cx="438.2" cy="459.9" r="4.9"/><circle class="b" cx="441.5" cy="458.0" r="4.9"/><circle class="b" cx="439.8" cy="458.7" r="4.9"/><circle class="b" cx="444.0" cy="456.0" r="4.9"/><circle class="b" cx="444.3" cy="457.3" r="4.9"/><circle class="b" cx="446.5" cy="454.0" r="4.9"/><circle class="b" cx="447.0" cy="454.6" r="4.9"/><circle class="b" cx="449.0" cy="452.0" r="4.9"/><circle class="b" cx="449.2" cy="450.4" r="4.9"/><circle class="b" cx="451.5" cy="450.0" r="4.9"/><circle class="b" cx="451.7" cy="450.6" r="4.9"/><circle class="b" cx="454.0" cy="448.0" r="4.9"/><circle class="b" cx="455.2" cy="448.7" r="4.9"/><circle class="b" cx="456.0" cy="446.0" r="4.9"/><circle class="b" cx="430.0" cy="445.5" r="4.9"/><circle class="b" cx="430.0" cy="445.5" r="4.9"/><circle class="b" cx="436.5" cy="444.5" r="4.9"/><circle class="b" cx="436.9" cy="445.9" r="4.9"/><circle class="b" cx="444.0" cy="443.0" r="4.9"/><circle class="b" cx="435.0" cy="453.0" r="4.9"/><circle class="b" cx="435.5" cy="451.7" r="4.9"/><circle class="b" cx="451.5" cy="458.5" r="4.9"/><circle class="b" cx="451.7" cy="459.1" r="4.9"/></g>
<text x="-1.3" y="23.5" font-size="29.43" fill="#000">Fast vs. Slow Progression Clusters in Embedding Space</text>
<text class="ax" text-anchor="end" x="34.5" y="628.2">-40</text>
<text class="ax" text-anchor="end" x="34.5" y="482.4">-20</text>
<text class="ax" text-anchor="end" x="34.5" y="336.6">0</text>
<text class="ax" text-anchor="end" x="34.5" y="190.8">20</text>
<text class="ax" text-anchor="middle" x="214.8" y="650.3">-20</text>
<text class="ax" text-anchor="middle" x="396.0" y="650.3">0</text>
<text class="ax" text-anchor="middle" x="577.2" y="650.3">20</text>
<text class="ax" text-anchor="middle" x="758.4" y="650.3">40</text>
<text x="798.5" y="305.5" font-size="24.7" fill="#000">Cluster</text>
<circle class="r" cx="813.6" cy="335.9" r="4.9"/>
<circle class="b" cx="813.6" cy="366.5" r="4.9"/>
<text x="841.1" y="343" font-size="19.75" fill="#000">Slow Progressor</text>
<text x="841.1" y="373.8" font-size="19.75" fill="#000">Fast Progressor</text>
</svg></body></html>
